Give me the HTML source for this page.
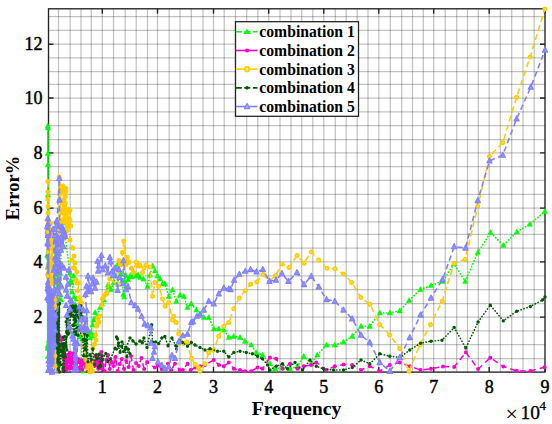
<!DOCTYPE html>
<html><head><meta charset="utf-8"><style>html,body{margin:0;padding:0;background:#fff;width:552px;height:424px;overflow:hidden}svg{display:block}</style></head>
<body><svg width="552" height="424" viewBox="0 0 552 424"><path d="M58.50 8.8V372.1M70.20 8.8V372.1M81.00 8.8V372.1M91.30 8.8V372.1M102.30 8.8V372.1M113.50 8.8V372.1M125.20 8.8V372.1M136.20 8.8V372.1M147.50 8.8V372.1M157.50 8.8V372.1M169.20 8.8V372.1M180.00 8.8V372.1M191.30 8.8V372.1M203.00 8.8V372.1M213.50 8.8V372.1M224.20 8.8V372.1M235.50 8.8V372.1M246.70 8.8V372.1M257.80 8.8V372.1M268.70 8.8V372.1M280.00 8.8V372.1M291.00 8.8V372.1M301.70 8.8V372.1M312.80 8.8V372.1M323.80 8.8V372.1M335.30 8.8V372.1M346.20 8.8V372.1M357.20 8.8V372.1M368.00 8.8V372.1M378.80 8.8V372.1M390.30 8.8V372.1M401.70 8.8V372.1M412.50 8.8V372.1M423.30 8.8V372.1M433.70 8.8V372.1M445.30 8.8V372.1M456.70 8.8V372.1M467.50 8.8V372.1M478.30 8.8V372.1M489.20 8.8V372.1M500.30 8.8V372.1M511.70 8.8V372.1M523.00 8.8V372.1M534.20 8.8V372.1" stroke="#000" stroke-opacity="0.24" stroke-width="1.25" fill="none"/><path d="M48.5 358.50H545.0M48.5 344.70H545.0M48.5 330.80H545.0M48.5 317.10H545.0M48.5 303.50H545.0M48.5 289.50H545.0M48.5 275.80H545.0M48.5 261.90H545.0M48.5 248.10H545.0M48.5 234.40H545.0M48.5 221.90H545.0M48.5 208.10H545.0M48.5 194.30H545.0M48.5 180.40H545.0M48.5 166.70H545.0M48.5 152.90H545.0M48.5 139.50H545.0M48.5 125.50H545.0M48.5 111.90H545.0M48.5 98.00H545.0M48.5 84.30H545.0M48.5 71.50H545.0M48.5 57.90H545.0M48.5 44.20H545.0M48.5 30.40H545.0M48.5 16.60H545.0" stroke="#000" stroke-opacity="0.24" stroke-width="1.25" fill="none"/><rect x="48.5" y="8.8" width="496.5" height="363.3" fill="none" stroke="#222" stroke-width="1.35"/><path d="M102.30 372.1v-5M102.30 8.8v5M157.50 372.1v-5M157.50 8.8v5M213.50 372.1v-5M213.50 8.8v5M268.70 372.1v-5M268.70 8.8v5M323.80 372.1v-5M323.80 8.8v5M378.80 372.1v-5M378.80 8.8v5M433.70 372.1v-5M433.70 8.8v5M489.20 372.1v-5M489.20 8.8v5M545.00 372.1v-5M545.00 8.8v5M48.5 317.10h5M545.0 317.10h-5M48.5 261.90h5M545.0 261.90h-5M48.5 208.10h5M545.0 208.10h-5M48.5 152.90h5M545.0 152.90h-5M48.5 98.00h5M545.0 98.00h-5M48.5 44.20h5M545.0 44.20h-5" stroke="#222" stroke-width="1.35" fill="none"/><g><path d="M47.9 126V372" stroke="#00ff00" stroke-width="1.5"/><path d="M47.8 126.0L47.9 127.8L47.9 153.5L47.9 164.8L48.0 195.0L48.0 224.4L47.3 254.6L47.7 348.2L47.6 256.0L47.6 345.8L48.0 266.5L47.9 356.5L48.0 267.4L48.5 369.9L48.8 275.3L48.8 340.5L48.7 226.8L49.0 369.0L49.0 238.4L49.1 348.3L56.8 253.9L56.9 353.8L57.0 248.8L57.1 364.1L57.4 258.3L57.4 351.9L57.3 236.5L57.3 370.0L57.7 241.4L57.8 361.0L58.0 254.1L57.6 366.0L58.1 243.3L58.3 360.7L57.9 247.9L58.3 364.3L59.5 262.0L60.0 273.0L59.0 285.0L60.5 295.0L61.0 300.0L58.5 298.0L63.0 222.9L64.8 233.6L70.0 273.0L70.6 281.0L71.4 283.0L73.6 276.0L72.0 292.0L74.0 297.0L76.5 299.0L75.0 305.0L76.0 323.5L78.4 326.0L76.0 334.0L80.0 337.0L82.2 339.0L81.0 366.0L83.0 371.0L85.0 360.0L87.5 334.0L90.0 338.0L89.0 332.0L93.0 336.0M91.2 332.5L92.5 325.0L93.5 320.0L95.0 312.5L97.0 317.0L100.0 307.5L102.0 304.0L104.0 300.0L106.0 293.0L107.9 285.2L109.2 286.5L111.1 289.7L113.7 282.6L115.5 276.0L117.6 264.5L118.9 269.6L120.9 274.2L122.2 281.0L123.4 294.3L124.1 296.9L124.7 281.3L125.5 274.8L128.0 279.4L130.0 276.0L131.9 276.8L133.2 271.0L136.2 276.0L138.0 275.0L140.0 277.5L143.5 279.0L147.5 286.2L150.0 275.0L152.5 266.0L155.0 271.0L157.5 276.0L160.0 279.0L162.5 283.8L165.0 283.8L168.8 296.2L172.5 290.0L176.2 301.2L180.0 295.0L183.8 296.2L187.5 307.5L191.2 303.8L196.2 310.0L200.0 314.0L203.8 317.5L208.8 317.5L213.8 328.8L218.8 328.8L223.8 330.0L228.8 337.5L233.8 336.2L240.0 337.5L245.0 341.2L251.2 345.0L256.2 352.5L262.5 355.0L270.0 363.8L275.0 368.8L282.5 367.5L290.0 368.8L297.5 366.2L303.8 356.2L311.2 363.8L317.2 355.0L326.5 345.0L334.8 345.0L343.5 342.0L352.2 336.2L361.0 326.2L369.8 326.2L379.8 313.0L389.8 313.0L399.8 310.8L409.0 300.5L420.3 289.5L431.0 285.5L442.8 281.2L454.0 263.8L465.2 281.2L477.8 252.5L490.5 232.5L503.3 245.5L516.8 232.0L529.8 224.2L544.8 211.5" stroke="#00ff00" stroke-width="1.6" fill="none" stroke-linecap="round" stroke-linejoin="round" stroke-dasharray="0.3 2.8"/><path d="M45.2 128.1L47.8 123.0L50.4 128.1ZM45.3 129.9L47.9 124.8L50.5 129.9ZM45.3 155.6L47.9 150.5L50.5 155.6ZM45.3 166.9L47.9 161.8L50.5 166.9ZM45.4 197.1L48.0 192.0L50.6 197.1ZM45.4 226.5L48.0 221.4L50.6 226.5ZM44.7 256.7L47.3 251.6L49.9 256.7ZM45.1 350.3L47.7 345.2L50.3 350.3ZM45.0 258.1L47.6 253.0L50.2 258.1ZM45.0 347.9L47.6 342.8L50.2 347.9ZM45.4 268.6L48.0 263.5L50.6 268.6ZM45.3 358.6L47.9 353.5L50.5 358.6ZM45.4 269.5L48.0 264.4L50.6 269.5ZM45.9 372.0L48.5 366.9L51.1 372.0ZM46.2 277.4L48.8 272.3L51.4 277.4ZM46.2 342.6L48.8 337.5L51.4 342.6ZM46.1 228.9L48.7 223.8L51.3 228.9ZM46.4 371.1L49.0 366.0L51.6 371.1ZM46.4 240.5L49.0 235.4L51.6 240.5ZM46.5 350.4L49.1 345.3L51.7 350.4ZM54.2 256.0L56.8 250.9L59.4 256.0ZM54.3 355.9L56.9 350.8L59.5 355.9ZM54.4 250.9L57.0 245.8L59.6 250.9ZM54.5 366.2L57.1 361.1L59.7 366.2ZM54.8 260.4L57.4 255.3L60.0 260.4ZM54.8 354.0L57.4 348.9L60.0 354.0ZM54.7 238.6L57.3 233.5L59.9 238.6ZM54.7 372.1L57.3 367.0L59.9 372.1ZM55.1 243.5L57.7 238.4L60.3 243.5ZM55.2 363.1L57.8 358.0L60.4 363.1ZM55.4 256.2L58.0 251.1L60.6 256.2ZM55.0 368.1L57.6 363.0L60.2 368.1ZM55.5 245.4L58.1 240.3L60.7 245.4ZM55.7 362.8L58.3 357.7L60.9 362.8ZM55.3 250.0L57.9 244.9L60.5 250.0ZM55.7 366.4L58.3 361.3L60.9 366.4ZM56.9 264.1L59.5 259.0L62.1 264.1ZM57.4 275.1L60.0 270.0L62.6 275.1ZM56.4 287.1L59.0 282.0L61.6 287.1ZM57.9 297.1L60.5 292.0L63.1 297.1ZM58.4 302.1L61.0 297.0L63.6 302.1ZM55.9 300.1L58.5 295.0L61.1 300.1ZM60.4 225.0L63.0 219.9L65.6 225.0ZM62.2 235.7L64.8 230.6L67.4 235.7ZM67.4 275.1L70.0 270.0L72.6 275.1ZM68.0 283.1L70.6 278.0L73.2 283.1ZM68.8 285.1L71.4 280.0L74.0 285.1ZM71.0 278.1L73.6 273.0L76.2 278.1ZM69.4 294.1L72.0 289.0L74.6 294.1ZM71.4 299.1L74.0 294.0L76.6 299.1ZM73.9 301.1L76.5 296.0L79.1 301.1ZM72.4 307.1L75.0 302.0L77.6 307.1ZM73.4 325.6L76.0 320.5L78.6 325.6ZM75.8 328.1L78.4 323.0L81.0 328.1ZM73.4 336.1L76.0 331.0L78.6 336.1ZM77.4 339.1L80.0 334.0L82.6 339.1ZM79.6 341.1L82.2 336.0L84.8 341.1ZM78.4 368.1L81.0 363.0L83.6 368.1ZM80.4 373.1L83.0 368.0L85.6 373.1ZM82.4 362.1L85.0 357.0L87.6 362.1ZM84.9 336.1L87.5 331.0L90.1 336.1ZM87.4 340.1L90.0 335.0L92.6 340.1ZM86.4 334.1L89.0 329.0L91.6 334.1ZM90.4 338.1L93.0 333.0L95.6 338.1ZM88.7 334.6L91.2 329.5L93.8 334.6ZM89.9 327.1L92.5 322.0L95.1 327.1ZM90.9 322.1L93.5 317.0L96.1 322.1ZM92.4 314.6L95.0 309.5L97.6 314.6ZM94.4 319.1L97.0 314.0L99.6 319.1ZM97.4 309.6L100.0 304.5L102.6 309.6ZM99.4 306.1L102.0 301.0L104.6 306.1ZM101.4 302.1L104.0 297.0L106.6 302.1ZM103.4 295.1L106.0 290.0L108.6 295.1ZM105.3 287.3L107.9 282.2L110.5 287.3ZM106.6 288.6L109.2 283.5L111.8 288.6ZM108.5 291.8L111.1 286.7L113.7 291.8ZM111.1 284.7L113.7 279.6L116.3 284.7ZM112.9 278.1L115.5 273.0L118.1 278.1ZM115.0 266.6L117.6 261.5L120.2 266.6ZM116.3 271.7L118.9 266.6L121.5 271.7ZM118.3 276.3L120.9 271.2L123.5 276.3ZM119.6 283.1L122.2 278.0L124.8 283.1ZM120.8 296.4L123.4 291.3L126.0 296.4ZM121.5 299.0L124.1 293.9L126.7 299.0ZM122.1 283.4L124.7 278.3L127.3 283.4ZM122.9 276.9L125.5 271.8L128.1 276.9ZM125.4 281.5L128.0 276.4L130.6 281.5ZM127.4 278.1L130.0 273.0L132.6 278.1ZM129.3 278.9L131.9 273.8L134.5 278.9ZM130.6 273.1L133.2 268.0L135.8 273.1ZM133.7 278.1L136.2 273.0L138.8 278.1ZM135.4 277.1L138.0 272.0L140.6 277.1ZM137.4 279.6L140.0 274.5L142.6 279.6ZM140.9 281.1L143.5 276.0L146.1 281.1ZM144.9 288.4L147.5 283.2L150.1 288.4ZM147.4 277.1L150.0 272.0L152.6 277.1ZM149.9 268.1L152.5 263.0L155.1 268.1ZM152.4 273.1L155.0 268.0L157.6 273.1ZM154.9 278.1L157.5 273.0L160.1 278.1ZM157.4 281.1L160.0 276.0L162.6 281.1ZM159.9 285.9L162.5 280.8L165.1 285.9ZM162.4 285.9L165.0 280.8L167.6 285.9ZM166.2 298.4L168.8 293.2L171.3 298.4ZM169.9 292.1L172.5 287.0L175.1 292.1ZM173.7 303.4L176.2 298.2L178.8 303.4ZM177.4 297.1L180.0 292.0L182.6 297.1ZM181.2 298.4L183.8 293.2L186.3 298.4ZM184.9 309.6L187.5 304.5L190.1 309.6ZM188.7 305.9L191.2 300.8L193.8 305.9ZM193.7 312.1L196.2 307.0L198.8 312.1ZM197.4 316.1L200.0 311.0L202.6 316.1ZM201.2 319.6L203.8 314.5L206.3 319.6ZM206.2 319.6L208.8 314.5L211.3 319.6ZM211.2 330.9L213.8 325.8L216.3 330.9ZM216.2 330.9L218.8 325.8L221.3 330.9ZM221.2 332.1L223.8 327.0L226.3 332.1ZM226.2 339.6L228.8 334.5L231.3 339.6ZM231.2 338.4L233.8 333.2L236.3 338.4ZM237.4 339.6L240.0 334.5L242.6 339.6ZM242.4 343.4L245.0 338.2L247.6 343.4ZM248.7 347.1L251.2 342.0L253.8 347.1ZM253.7 354.6L256.2 349.5L258.9 354.6ZM259.9 357.1L262.5 352.0L265.1 357.1ZM267.4 365.9L270.0 360.8L272.6 365.9ZM272.4 370.9L275.0 365.8L277.6 370.9ZM279.9 369.6L282.5 364.5L285.1 369.6ZM287.4 370.9L290.0 365.8L292.6 370.9ZM294.9 368.4L297.5 363.2L300.1 368.4ZM301.1 358.4L303.8 353.2L306.4 358.4ZM308.6 365.9L311.2 360.8L313.9 365.9ZM314.6 357.1L317.2 352.0L319.9 357.1ZM323.9 347.1L326.5 342.0L329.1 347.1ZM332.1 347.1L334.8 342.0L337.4 347.1ZM340.9 344.1L343.5 339.0L346.1 344.1ZM349.6 338.4L352.2 333.2L354.9 338.4ZM358.4 328.4L361.0 323.2L363.6 328.4ZM367.1 328.4L369.8 323.2L372.4 328.4ZM377.1 315.1L379.8 310.0L382.4 315.1ZM387.1 315.1L389.8 310.0L392.4 315.1ZM397.1 312.9L399.8 307.8L402.4 312.9ZM406.4 302.6L409.0 297.5L411.6 302.6ZM417.7 291.6L420.3 286.5L422.9 291.6ZM428.4 287.6L431.0 282.5L433.6 287.6ZM440.1 283.4L442.8 278.2L445.4 283.4ZM451.4 265.9L454.0 260.8L456.6 265.9ZM462.6 283.4L465.2 278.2L467.9 283.4ZM475.1 254.6L477.8 249.5L480.4 254.6ZM487.9 234.6L490.5 229.5L493.1 234.6ZM500.7 247.6L503.3 242.5L505.9 247.6ZM514.2 234.1L516.8 229.0L519.4 234.1ZM527.2 226.3L529.8 221.2L532.4 226.3ZM542.2 213.6L544.8 208.5L547.4 213.6Z" fill="#00ff00" stroke="#00ff00" stroke-width="0.5" stroke-linejoin="round"/><path d="M55.6 350.5L56.7 358.6L57.0 350.1L57.7 361.7L58.7 349.8L59.5 336.0L61.0 340.0L62.5 338.0L60.0 346.0L63.0 349.0L63.3 356.5L63.7 364.7L64.2 358.4L64.7 367.8L65.3 354.7L66.2 364.0L66.4 360.8L66.9 368.1L67.8 358.4L67.9 362.1L68.5 354.6L69.4 368.7L69.7 352.7L70.1 366.2L70.7 358.0L71.3 367.5L72.1 356.8L72.5 363.3L72.8 353.5L73.7 363.8L73.9 353.9L74.7 362.6L63.2 370.2L64.9 364.3L65.4 355.8L66.0 370.4L67.2 366.0L68.3 368.0L69.6 359.0L70.2 366.2L71.1 357.9L72.6 368.5L75.1 362.9L76.2 370.4L76.8 362.8L78.0 370.8L78.2 359.1L79.2 369.1L79.9 362.6L81.0 365.6L81.7 360.5L82.2 369.8L83.0 362.7L84.1 363.5L85.8 367.3L87.7 370.5L89.2 368.1L90.8 370.9L91.7 362.5L92.7 365.9L93.6 362.7L94.4 366.1L95.6 362.3L96.3 365.2L97.5 359.7L98.3 368.7L99.2 360.0L99.9 366.5L101.3 362.4L102.1 368.7M95.4 356.0L96.8 362.0L98.3 358.0L99.8 368.0L101.3 352.0L102.9 365.0L104.6 371.0L106.3 360.0L108.0 355.0L109.8 369.0L111.7 362.0L113.6 366.0L115.6 357.0L117.6 371.0L119.7 364.0L121.8 359.0L124.0 369.0L126.3 361.0L128.6 367.0L131.0 356.0L133.5 370.0L136.1 363.0L138.7 366.0L141.4 358.0L144.2 369.0L147.1 362.0L154.8 367.6L157.9 365.3L161.8 369.2L168.0 363.7L171.2 370.0L175.0 363.7L179.7 370.0L182.8 370.0L187.5 363.7L190.6 370.0L195.3 367.6L200.0 366.2L205.0 365.0L213.8 360.0L218.8 365.0L223.8 366.2L228.8 362.5L233.8 368.8L240.0 370.0L245.0 371.2L251.2 371.2L257.5 367.5L262.5 368.8L270.0 357.5L276.2 358.8L282.5 368.8L290.0 363.8L297.5 368.8L303.8 366.2L311.2 365.0L316.2 362.5L326.5 370.0L334.8 366.2L343.5 364.5L352.2 365.0L361.0 370.0L369.8 366.2L379.8 371.2L389.8 365.0L399.8 362.5L409.8 366.2L420.5 370.0L431.0 368.8L443.0 366.5L454.2 366.9L465.8 352.3L478.1 369.0L490.3 357.8L503.3 366.5L516.7 371.0L530.3 371.0L544.5 367.3" stroke="#ff00cc" stroke-width="1.5" fill="none" stroke-linecap="butt" stroke-linejoin="round" stroke-dasharray="6 4"/><path d="M53.6 350.5a2.0 2.0 0 1 0 4.0 0a2.0 2.0 0 1 0 -4.0 0ZM54.7 358.6a2.0 2.0 0 1 0 4.0 0a2.0 2.0 0 1 0 -4.0 0ZM55.0 350.1a2.0 2.0 0 1 0 4.0 0a2.0 2.0 0 1 0 -4.0 0ZM55.7 361.7a2.0 2.0 0 1 0 4.0 0a2.0 2.0 0 1 0 -4.0 0ZM56.7 349.8a2.0 2.0 0 1 0 4.0 0a2.0 2.0 0 1 0 -4.0 0ZM57.5 336.0a2.0 2.0 0 1 0 4.0 0a2.0 2.0 0 1 0 -4.0 0ZM59.0 340.0a2.0 2.0 0 1 0 4.0 0a2.0 2.0 0 1 0 -4.0 0ZM60.5 338.0a2.0 2.0 0 1 0 4.0 0a2.0 2.0 0 1 0 -4.0 0ZM58.0 346.0a2.0 2.0 0 1 0 4.0 0a2.0 2.0 0 1 0 -4.0 0ZM61.0 349.0a2.0 2.0 0 1 0 4.0 0a2.0 2.0 0 1 0 -4.0 0ZM61.3 356.5a2.0 2.0 0 1 0 4.0 0a2.0 2.0 0 1 0 -4.0 0ZM61.7 364.7a2.0 2.0 0 1 0 4.0 0a2.0 2.0 0 1 0 -4.0 0ZM62.2 358.4a2.0 2.0 0 1 0 4.0 0a2.0 2.0 0 1 0 -4.0 0ZM62.7 367.8a2.0 2.0 0 1 0 4.0 0a2.0 2.0 0 1 0 -4.0 0ZM63.3 354.7a2.0 2.0 0 1 0 4.0 0a2.0 2.0 0 1 0 -4.0 0ZM64.2 364.0a2.0 2.0 0 1 0 4.0 0a2.0 2.0 0 1 0 -4.0 0ZM64.4 360.8a2.0 2.0 0 1 0 4.0 0a2.0 2.0 0 1 0 -4.0 0ZM64.9 368.1a2.0 2.0 0 1 0 4.0 0a2.0 2.0 0 1 0 -4.0 0ZM65.8 358.4a2.0 2.0 0 1 0 4.0 0a2.0 2.0 0 1 0 -4.0 0ZM65.9 362.1a2.0 2.0 0 1 0 4.0 0a2.0 2.0 0 1 0 -4.0 0ZM66.5 354.6a2.0 2.0 0 1 0 4.0 0a2.0 2.0 0 1 0 -4.0 0ZM67.4 368.7a2.0 2.0 0 1 0 4.0 0a2.0 2.0 0 1 0 -4.0 0ZM67.7 352.7a2.0 2.0 0 1 0 4.0 0a2.0 2.0 0 1 0 -4.0 0ZM68.1 366.2a2.0 2.0 0 1 0 4.0 0a2.0 2.0 0 1 0 -4.0 0ZM68.7 358.0a2.0 2.0 0 1 0 4.0 0a2.0 2.0 0 1 0 -4.0 0ZM69.3 367.5a2.0 2.0 0 1 0 4.0 0a2.0 2.0 0 1 0 -4.0 0ZM70.1 356.8a2.0 2.0 0 1 0 4.0 0a2.0 2.0 0 1 0 -4.0 0ZM70.5 363.3a2.0 2.0 0 1 0 4.0 0a2.0 2.0 0 1 0 -4.0 0ZM70.8 353.5a2.0 2.0 0 1 0 4.0 0a2.0 2.0 0 1 0 -4.0 0ZM71.7 363.8a2.0 2.0 0 1 0 4.0 0a2.0 2.0 0 1 0 -4.0 0ZM71.9 353.9a2.0 2.0 0 1 0 4.0 0a2.0 2.0 0 1 0 -4.0 0ZM72.7 362.6a2.0 2.0 0 1 0 4.0 0a2.0 2.0 0 1 0 -4.0 0ZM61.2 370.2a2.0 2.0 0 1 0 4.0 0a2.0 2.0 0 1 0 -4.0 0ZM62.9 364.3a2.0 2.0 0 1 0 4.0 0a2.0 2.0 0 1 0 -4.0 0ZM63.4 355.8a2.0 2.0 0 1 0 4.0 0a2.0 2.0 0 1 0 -4.0 0ZM64.0 370.4a2.0 2.0 0 1 0 4.0 0a2.0 2.0 0 1 0 -4.0 0ZM65.2 366.0a2.0 2.0 0 1 0 4.0 0a2.0 2.0 0 1 0 -4.0 0ZM66.3 368.0a2.0 2.0 0 1 0 4.0 0a2.0 2.0 0 1 0 -4.0 0ZM67.6 359.0a2.0 2.0 0 1 0 4.0 0a2.0 2.0 0 1 0 -4.0 0ZM68.2 366.2a2.0 2.0 0 1 0 4.0 0a2.0 2.0 0 1 0 -4.0 0ZM69.1 357.9a2.0 2.0 0 1 0 4.0 0a2.0 2.0 0 1 0 -4.0 0ZM70.6 368.5a2.0 2.0 0 1 0 4.0 0a2.0 2.0 0 1 0 -4.0 0ZM73.1 362.9a2.0 2.0 0 1 0 4.0 0a2.0 2.0 0 1 0 -4.0 0ZM74.2 370.4a2.0 2.0 0 1 0 4.0 0a2.0 2.0 0 1 0 -4.0 0ZM74.8 362.8a2.0 2.0 0 1 0 4.0 0a2.0 2.0 0 1 0 -4.0 0ZM76.0 370.8a2.0 2.0 0 1 0 4.0 0a2.0 2.0 0 1 0 -4.0 0ZM76.2 359.1a2.0 2.0 0 1 0 4.0 0a2.0 2.0 0 1 0 -4.0 0ZM77.2 369.1a2.0 2.0 0 1 0 4.0 0a2.0 2.0 0 1 0 -4.0 0ZM77.9 362.6a2.0 2.0 0 1 0 4.0 0a2.0 2.0 0 1 0 -4.0 0ZM79.0 365.6a2.0 2.0 0 1 0 4.0 0a2.0 2.0 0 1 0 -4.0 0ZM79.7 360.5a2.0 2.0 0 1 0 4.0 0a2.0 2.0 0 1 0 -4.0 0ZM80.2 369.8a2.0 2.0 0 1 0 4.0 0a2.0 2.0 0 1 0 -4.0 0ZM81.0 362.7a2.0 2.0 0 1 0 4.0 0a2.0 2.0 0 1 0 -4.0 0ZM82.1 363.5a2.0 2.0 0 1 0 4.0 0a2.0 2.0 0 1 0 -4.0 0ZM83.8 367.3a2.0 2.0 0 1 0 4.0 0a2.0 2.0 0 1 0 -4.0 0ZM85.7 370.5a2.0 2.0 0 1 0 4.0 0a2.0 2.0 0 1 0 -4.0 0ZM87.2 368.1a2.0 2.0 0 1 0 4.0 0a2.0 2.0 0 1 0 -4.0 0ZM88.8 370.9a2.0 2.0 0 1 0 4.0 0a2.0 2.0 0 1 0 -4.0 0ZM89.7 362.5a2.0 2.0 0 1 0 4.0 0a2.0 2.0 0 1 0 -4.0 0ZM90.7 365.9a2.0 2.0 0 1 0 4.0 0a2.0 2.0 0 1 0 -4.0 0ZM91.6 362.7a2.0 2.0 0 1 0 4.0 0a2.0 2.0 0 1 0 -4.0 0ZM92.4 366.1a2.0 2.0 0 1 0 4.0 0a2.0 2.0 0 1 0 -4.0 0ZM93.6 362.3a2.0 2.0 0 1 0 4.0 0a2.0 2.0 0 1 0 -4.0 0ZM94.3 365.2a2.0 2.0 0 1 0 4.0 0a2.0 2.0 0 1 0 -4.0 0ZM95.5 359.7a2.0 2.0 0 1 0 4.0 0a2.0 2.0 0 1 0 -4.0 0ZM96.3 368.7a2.0 2.0 0 1 0 4.0 0a2.0 2.0 0 1 0 -4.0 0ZM97.2 360.0a2.0 2.0 0 1 0 4.0 0a2.0 2.0 0 1 0 -4.0 0ZM97.9 366.5a2.0 2.0 0 1 0 4.0 0a2.0 2.0 0 1 0 -4.0 0ZM99.3 362.4a2.0 2.0 0 1 0 4.0 0a2.0 2.0 0 1 0 -4.0 0ZM100.1 368.7a2.0 2.0 0 1 0 4.0 0a2.0 2.0 0 1 0 -4.0 0ZM93.4 356.0a2.0 2.0 0 1 0 4.0 0a2.0 2.0 0 1 0 -4.0 0ZM94.8 362.0a2.0 2.0 0 1 0 4.0 0a2.0 2.0 0 1 0 -4.0 0ZM96.3 358.0a2.0 2.0 0 1 0 4.0 0a2.0 2.0 0 1 0 -4.0 0ZM97.8 368.0a2.0 2.0 0 1 0 4.0 0a2.0 2.0 0 1 0 -4.0 0ZM99.3 352.0a2.0 2.0 0 1 0 4.0 0a2.0 2.0 0 1 0 -4.0 0ZM100.9 365.0a2.0 2.0 0 1 0 4.0 0a2.0 2.0 0 1 0 -4.0 0ZM102.6 371.0a2.0 2.0 0 1 0 4.0 0a2.0 2.0 0 1 0 -4.0 0ZM104.3 360.0a2.0 2.0 0 1 0 4.0 0a2.0 2.0 0 1 0 -4.0 0ZM106.0 355.0a2.0 2.0 0 1 0 4.0 0a2.0 2.0 0 1 0 -4.0 0ZM107.8 369.0a2.0 2.0 0 1 0 4.0 0a2.0 2.0 0 1 0 -4.0 0ZM109.7 362.0a2.0 2.0 0 1 0 4.0 0a2.0 2.0 0 1 0 -4.0 0ZM111.6 366.0a2.0 2.0 0 1 0 4.0 0a2.0 2.0 0 1 0 -4.0 0ZM113.6 357.0a2.0 2.0 0 1 0 4.0 0a2.0 2.0 0 1 0 -4.0 0ZM115.6 371.0a2.0 2.0 0 1 0 4.0 0a2.0 2.0 0 1 0 -4.0 0ZM117.7 364.0a2.0 2.0 0 1 0 4.0 0a2.0 2.0 0 1 0 -4.0 0ZM119.8 359.0a2.0 2.0 0 1 0 4.0 0a2.0 2.0 0 1 0 -4.0 0ZM122.0 369.0a2.0 2.0 0 1 0 4.0 0a2.0 2.0 0 1 0 -4.0 0ZM124.3 361.0a2.0 2.0 0 1 0 4.0 0a2.0 2.0 0 1 0 -4.0 0ZM126.6 367.0a2.0 2.0 0 1 0 4.0 0a2.0 2.0 0 1 0 -4.0 0ZM129.0 356.0a2.0 2.0 0 1 0 4.0 0a2.0 2.0 0 1 0 -4.0 0ZM131.5 370.0a2.0 2.0 0 1 0 4.0 0a2.0 2.0 0 1 0 -4.0 0ZM134.1 363.0a2.0 2.0 0 1 0 4.0 0a2.0 2.0 0 1 0 -4.0 0ZM136.7 366.0a2.0 2.0 0 1 0 4.0 0a2.0 2.0 0 1 0 -4.0 0ZM139.4 358.0a2.0 2.0 0 1 0 4.0 0a2.0 2.0 0 1 0 -4.0 0ZM142.2 369.0a2.0 2.0 0 1 0 4.0 0a2.0 2.0 0 1 0 -4.0 0ZM145.1 362.0a2.0 2.0 0 1 0 4.0 0a2.0 2.0 0 1 0 -4.0 0ZM152.8 367.6a2.0 2.0 0 1 0 4.0 0a2.0 2.0 0 1 0 -4.0 0ZM155.9 365.3a2.0 2.0 0 1 0 4.0 0a2.0 2.0 0 1 0 -4.0 0ZM159.8 369.2a2.0 2.0 0 1 0 4.0 0a2.0 2.0 0 1 0 -4.0 0ZM166.0 363.7a2.0 2.0 0 1 0 4.0 0a2.0 2.0 0 1 0 -4.0 0ZM169.2 370.0a2.0 2.0 0 1 0 4.0 0a2.0 2.0 0 1 0 -4.0 0ZM173.0 363.7a2.0 2.0 0 1 0 4.0 0a2.0 2.0 0 1 0 -4.0 0ZM177.7 370.0a2.0 2.0 0 1 0 4.0 0a2.0 2.0 0 1 0 -4.0 0ZM180.8 370.0a2.0 2.0 0 1 0 4.0 0a2.0 2.0 0 1 0 -4.0 0ZM185.5 363.7a2.0 2.0 0 1 0 4.0 0a2.0 2.0 0 1 0 -4.0 0ZM188.6 370.0a2.0 2.0 0 1 0 4.0 0a2.0 2.0 0 1 0 -4.0 0ZM193.3 367.6a2.0 2.0 0 1 0 4.0 0a2.0 2.0 0 1 0 -4.0 0ZM198.0 366.2a2.0 2.0 0 1 0 4.0 0a2.0 2.0 0 1 0 -4.0 0ZM203.0 365.0a2.0 2.0 0 1 0 4.0 0a2.0 2.0 0 1 0 -4.0 0ZM211.8 360.0a2.0 2.0 0 1 0 4.0 0a2.0 2.0 0 1 0 -4.0 0ZM216.8 365.0a2.0 2.0 0 1 0 4.0 0a2.0 2.0 0 1 0 -4.0 0ZM221.8 366.2a2.0 2.0 0 1 0 4.0 0a2.0 2.0 0 1 0 -4.0 0ZM226.8 362.5a2.0 2.0 0 1 0 4.0 0a2.0 2.0 0 1 0 -4.0 0ZM231.8 368.8a2.0 2.0 0 1 0 4.0 0a2.0 2.0 0 1 0 -4.0 0ZM238.0 370.0a2.0 2.0 0 1 0 4.0 0a2.0 2.0 0 1 0 -4.0 0ZM243.0 371.2a2.0 2.0 0 1 0 4.0 0a2.0 2.0 0 1 0 -4.0 0ZM249.2 371.2a2.0 2.0 0 1 0 4.0 0a2.0 2.0 0 1 0 -4.0 0ZM255.5 367.5a2.0 2.0 0 1 0 4.0 0a2.0 2.0 0 1 0 -4.0 0ZM260.5 368.8a2.0 2.0 0 1 0 4.0 0a2.0 2.0 0 1 0 -4.0 0ZM268.0 357.5a2.0 2.0 0 1 0 4.0 0a2.0 2.0 0 1 0 -4.0 0ZM274.2 358.8a2.0 2.0 0 1 0 4.0 0a2.0 2.0 0 1 0 -4.0 0ZM280.5 368.8a2.0 2.0 0 1 0 4.0 0a2.0 2.0 0 1 0 -4.0 0ZM288.0 363.8a2.0 2.0 0 1 0 4.0 0a2.0 2.0 0 1 0 -4.0 0ZM295.5 368.8a2.0 2.0 0 1 0 4.0 0a2.0 2.0 0 1 0 -4.0 0ZM301.8 366.2a2.0 2.0 0 1 0 4.0 0a2.0 2.0 0 1 0 -4.0 0ZM309.2 365.0a2.0 2.0 0 1 0 4.0 0a2.0 2.0 0 1 0 -4.0 0ZM314.2 362.5a2.0 2.0 0 1 0 4.0 0a2.0 2.0 0 1 0 -4.0 0ZM324.5 370.0a2.0 2.0 0 1 0 4.0 0a2.0 2.0 0 1 0 -4.0 0ZM332.8 366.2a2.0 2.0 0 1 0 4.0 0a2.0 2.0 0 1 0 -4.0 0ZM341.5 364.5a2.0 2.0 0 1 0 4.0 0a2.0 2.0 0 1 0 -4.0 0ZM350.2 365.0a2.0 2.0 0 1 0 4.0 0a2.0 2.0 0 1 0 -4.0 0ZM359.0 370.0a2.0 2.0 0 1 0 4.0 0a2.0 2.0 0 1 0 -4.0 0ZM367.8 366.2a2.0 2.0 0 1 0 4.0 0a2.0 2.0 0 1 0 -4.0 0ZM377.8 371.2a2.0 2.0 0 1 0 4.0 0a2.0 2.0 0 1 0 -4.0 0ZM387.8 365.0a2.0 2.0 0 1 0 4.0 0a2.0 2.0 0 1 0 -4.0 0ZM397.8 362.5a2.0 2.0 0 1 0 4.0 0a2.0 2.0 0 1 0 -4.0 0ZM407.8 366.2a2.0 2.0 0 1 0 4.0 0a2.0 2.0 0 1 0 -4.0 0ZM418.5 370.0a2.0 2.0 0 1 0 4.0 0a2.0 2.0 0 1 0 -4.0 0ZM429.0 368.8a2.0 2.0 0 1 0 4.0 0a2.0 2.0 0 1 0 -4.0 0ZM441.0 366.5a2.0 2.0 0 1 0 4.0 0a2.0 2.0 0 1 0 -4.0 0ZM452.2 366.9a2.0 2.0 0 1 0 4.0 0a2.0 2.0 0 1 0 -4.0 0ZM463.8 352.3a2.0 2.0 0 1 0 4.0 0a2.0 2.0 0 1 0 -4.0 0ZM476.1 369.0a2.0 2.0 0 1 0 4.0 0a2.0 2.0 0 1 0 -4.0 0ZM488.3 357.8a2.0 2.0 0 1 0 4.0 0a2.0 2.0 0 1 0 -4.0 0ZM501.3 366.5a2.0 2.0 0 1 0 4.0 0a2.0 2.0 0 1 0 -4.0 0ZM514.7 371.0a2.0 2.0 0 1 0 4.0 0a2.0 2.0 0 1 0 -4.0 0ZM528.3 371.0a2.0 2.0 0 1 0 4.0 0a2.0 2.0 0 1 0 -4.0 0ZM542.5 367.3a2.0 2.0 0 1 0 4.0 0a2.0 2.0 0 1 0 -4.0 0Z" fill="#ff00cc"/><path d="M47.8 181.5L47.9 192.0L47.9 199.0L48.0 206.5L48.0 213.0L47.6 230.3L47.7 268.0L47.7 234.7L47.8 274.2L48.2 221.0L48.5 276.9L48.6 239.2L48.7 289.7L48.9 232.8L49.0 285.5L49.5 232.3L49.5 266.6L50.4 223.7L50.5 240.9L50.7 280.3L51.2 246.5L51.5 281.4L51.6 233.1L51.6 278.9L52.2 245.0L52.4 268.7L52.4 229.8L52.7 283.8L52.8 235.3L53.3 278.9L54.1 300.1L55.6 307.8L56.3 296.2L57.9 309.8L54.5 355.2L55.1 366.2L55.7 352.0L56.7 371.8L60.7 189.4L61.0 221.3L61.9 192.4L62.6 212.6L63.3 199.8L63.9 219.1L64.5 188.6L64.9 215.2L65.9 188.6L66.4 217.0L64.1 206.7L64.8 222.3L65.4 210.1L66.4 230.9L67.1 209.2L67.4 226.2L68.4 211.6L69.0 224.7L70.0 210.2L70.7 226.1L58.5 250.0L59.3 230.0L59.3 200.0L59.3 177.0L60.5 190.0L62.8 186.0L66.0 191.2L65.4 196.4L65.4 203.0L64.7 207.5L68.6 212.7L68.0 217.9L70.0 219.8L68.6 227.0L70.0 240.0L73.0 248.0L74.0 256.0L72.0 260.0L75.0 263.0L73.0 268.0L74.5 268.0L77.0 272.0L76.0 280.0L77.0 283.0L79.0 283.0L77.5 291.0L80.0 299.0L80.5 302.0L79.0 298.0L81.5 303.0L83.0 329.0L84.0 334.0L83.5 340.0L84.5 347.0L86.0 360.0L87.0 368.0L88.5 364.0L90.0 372.0L91.5 366.0L92.5 371.0L93.0 348.0L94.5 344.0L95.5 335.0L96.0 340.0L96.5 326.0L98.0 318.0L97.0 325.0L99.0 322.0L100.0 316.0M101.2 305.0L102.5 298.8L104.0 296.0L105.9 294.3L107.2 291.7L109.8 279.0L117.6 285.0L118.9 260.6L120.5 265.0L122.5 252.5L123.8 241.2L126.0 264.5L127.3 257.3L129.0 262.0L131.2 268.3L133.2 272.2L136.2 262.0L138.0 266.0L140.0 265.0L142.5 272.5L144.0 268.0L146.2 265.0L150.0 267.0L152.5 296.2L155.0 282.5L158.8 286.2L162.5 298.8L165.0 306.2L168.8 302.5L172.5 320.0L173.8 316.2L176.2 322.5L178.8 333.8L183.6 343.5L186.7 341.9L191.4 358.3L195.3 364.5L198.4 367.6L200.0 371.2L205.0 363.8L208.8 352.5L213.8 350.0L218.8 336.2L223.8 326.2L228.8 322.5L233.8 308.8L239.4 298.1L245.1 290.7L250.6 284.2L256.9 281.8L263.0 274.8L269.5 281.0L275.4 275.7L281.9 263.9L289.0 267.5L297.0 255.5L304.0 263.2L311.2 252.0L318.8 260.0L327.0 268.2L335.0 268.8L343.5 274.0L351.8 282.5L360.8 297.5L370.0 304.2L379.8 324.5L389.8 335.0L399.8 348.8L409.0 371.2L419.8 345.0L430.5 324.5L442.2 301.2L454.2 263.2L465.1 259.4L477.8 206.2L489.5 156.5L502.8 142.6L516.6 97.3L530.1 57.0L544.8 9.0" stroke="#ffcc00" stroke-width="1.6" fill="none" stroke-linecap="butt" stroke-linejoin="round" stroke-dasharray="6 3.5"/><path d="M46.0 181.5a1.8 1.8 0 1 0 3.6 0a1.8 1.8 0 1 0 -3.6 0ZM46.1 192.0a1.8 1.8 0 1 0 3.6 0a1.8 1.8 0 1 0 -3.6 0ZM46.1 199.0a1.8 1.8 0 1 0 3.6 0a1.8 1.8 0 1 0 -3.6 0ZM46.2 206.5a1.8 1.8 0 1 0 3.6 0a1.8 1.8 0 1 0 -3.6 0ZM46.2 213.0a1.8 1.8 0 1 0 3.6 0a1.8 1.8 0 1 0 -3.6 0ZM45.8 230.3a1.8 1.8 0 1 0 3.6 0a1.8 1.8 0 1 0 -3.6 0ZM45.9 268.0a1.8 1.8 0 1 0 3.6 0a1.8 1.8 0 1 0 -3.6 0ZM45.9 234.7a1.8 1.8 0 1 0 3.6 0a1.8 1.8 0 1 0 -3.6 0ZM46.0 274.2a1.8 1.8 0 1 0 3.6 0a1.8 1.8 0 1 0 -3.6 0ZM46.4 221.0a1.8 1.8 0 1 0 3.6 0a1.8 1.8 0 1 0 -3.6 0ZM46.7 276.9a1.8 1.8 0 1 0 3.6 0a1.8 1.8 0 1 0 -3.6 0ZM46.8 239.2a1.8 1.8 0 1 0 3.6 0a1.8 1.8 0 1 0 -3.6 0ZM46.9 289.7a1.8 1.8 0 1 0 3.6 0a1.8 1.8 0 1 0 -3.6 0ZM47.1 232.8a1.8 1.8 0 1 0 3.6 0a1.8 1.8 0 1 0 -3.6 0ZM47.2 285.5a1.8 1.8 0 1 0 3.6 0a1.8 1.8 0 1 0 -3.6 0ZM47.7 232.3a1.8 1.8 0 1 0 3.6 0a1.8 1.8 0 1 0 -3.6 0ZM47.7 266.6a1.8 1.8 0 1 0 3.6 0a1.8 1.8 0 1 0 -3.6 0ZM48.6 223.7a1.8 1.8 0 1 0 3.6 0a1.8 1.8 0 1 0 -3.6 0ZM48.7 240.9a1.8 1.8 0 1 0 3.6 0a1.8 1.8 0 1 0 -3.6 0ZM48.9 280.3a1.8 1.8 0 1 0 3.6 0a1.8 1.8 0 1 0 -3.6 0ZM49.4 246.5a1.8 1.8 0 1 0 3.6 0a1.8 1.8 0 1 0 -3.6 0ZM49.7 281.4a1.8 1.8 0 1 0 3.6 0a1.8 1.8 0 1 0 -3.6 0ZM49.8 233.1a1.8 1.8 0 1 0 3.6 0a1.8 1.8 0 1 0 -3.6 0ZM49.8 278.9a1.8 1.8 0 1 0 3.6 0a1.8 1.8 0 1 0 -3.6 0ZM50.4 245.0a1.8 1.8 0 1 0 3.6 0a1.8 1.8 0 1 0 -3.6 0ZM50.6 268.7a1.8 1.8 0 1 0 3.6 0a1.8 1.8 0 1 0 -3.6 0ZM50.6 229.8a1.8 1.8 0 1 0 3.6 0a1.8 1.8 0 1 0 -3.6 0ZM50.9 283.8a1.8 1.8 0 1 0 3.6 0a1.8 1.8 0 1 0 -3.6 0ZM51.0 235.3a1.8 1.8 0 1 0 3.6 0a1.8 1.8 0 1 0 -3.6 0ZM51.5 278.9a1.8 1.8 0 1 0 3.6 0a1.8 1.8 0 1 0 -3.6 0ZM52.3 300.1a1.8 1.8 0 1 0 3.6 0a1.8 1.8 0 1 0 -3.6 0ZM53.8 307.8a1.8 1.8 0 1 0 3.6 0a1.8 1.8 0 1 0 -3.6 0ZM54.5 296.2a1.8 1.8 0 1 0 3.6 0a1.8 1.8 0 1 0 -3.6 0ZM56.1 309.8a1.8 1.8 0 1 0 3.6 0a1.8 1.8 0 1 0 -3.6 0ZM52.7 355.2a1.8 1.8 0 1 0 3.6 0a1.8 1.8 0 1 0 -3.6 0ZM53.3 366.2a1.8 1.8 0 1 0 3.6 0a1.8 1.8 0 1 0 -3.6 0ZM53.9 352.0a1.8 1.8 0 1 0 3.6 0a1.8 1.8 0 1 0 -3.6 0ZM54.9 371.8a1.8 1.8 0 1 0 3.6 0a1.8 1.8 0 1 0 -3.6 0ZM58.9 189.4a1.8 1.8 0 1 0 3.6 0a1.8 1.8 0 1 0 -3.6 0ZM59.2 221.3a1.8 1.8 0 1 0 3.6 0a1.8 1.8 0 1 0 -3.6 0ZM60.1 192.4a1.8 1.8 0 1 0 3.6 0a1.8 1.8 0 1 0 -3.6 0ZM60.8 212.6a1.8 1.8 0 1 0 3.6 0a1.8 1.8 0 1 0 -3.6 0ZM61.5 199.8a1.8 1.8 0 1 0 3.6 0a1.8 1.8 0 1 0 -3.6 0ZM62.1 219.1a1.8 1.8 0 1 0 3.6 0a1.8 1.8 0 1 0 -3.6 0ZM62.7 188.6a1.8 1.8 0 1 0 3.6 0a1.8 1.8 0 1 0 -3.6 0ZM63.1 215.2a1.8 1.8 0 1 0 3.6 0a1.8 1.8 0 1 0 -3.6 0ZM64.1 188.6a1.8 1.8 0 1 0 3.6 0a1.8 1.8 0 1 0 -3.6 0ZM64.6 217.0a1.8 1.8 0 1 0 3.6 0a1.8 1.8 0 1 0 -3.6 0ZM62.3 206.7a1.8 1.8 0 1 0 3.6 0a1.8 1.8 0 1 0 -3.6 0ZM63.0 222.3a1.8 1.8 0 1 0 3.6 0a1.8 1.8 0 1 0 -3.6 0ZM63.6 210.1a1.8 1.8 0 1 0 3.6 0a1.8 1.8 0 1 0 -3.6 0ZM64.6 230.9a1.8 1.8 0 1 0 3.6 0a1.8 1.8 0 1 0 -3.6 0ZM65.3 209.2a1.8 1.8 0 1 0 3.6 0a1.8 1.8 0 1 0 -3.6 0ZM65.6 226.2a1.8 1.8 0 1 0 3.6 0a1.8 1.8 0 1 0 -3.6 0ZM66.6 211.6a1.8 1.8 0 1 0 3.6 0a1.8 1.8 0 1 0 -3.6 0ZM67.2 224.7a1.8 1.8 0 1 0 3.6 0a1.8 1.8 0 1 0 -3.6 0ZM68.2 210.2a1.8 1.8 0 1 0 3.6 0a1.8 1.8 0 1 0 -3.6 0ZM68.9 226.1a1.8 1.8 0 1 0 3.6 0a1.8 1.8 0 1 0 -3.6 0ZM56.7 250.0a1.8 1.8 0 1 0 3.6 0a1.8 1.8 0 1 0 -3.6 0ZM57.5 230.0a1.8 1.8 0 1 0 3.6 0a1.8 1.8 0 1 0 -3.6 0ZM57.5 200.0a1.8 1.8 0 1 0 3.6 0a1.8 1.8 0 1 0 -3.6 0ZM57.5 177.0a1.8 1.8 0 1 0 3.6 0a1.8 1.8 0 1 0 -3.6 0ZM58.7 190.0a1.8 1.8 0 1 0 3.6 0a1.8 1.8 0 1 0 -3.6 0ZM61.0 186.0a1.8 1.8 0 1 0 3.6 0a1.8 1.8 0 1 0 -3.6 0ZM64.2 191.2a1.8 1.8 0 1 0 3.6 0a1.8 1.8 0 1 0 -3.6 0ZM63.6 196.4a1.8 1.8 0 1 0 3.6 0a1.8 1.8 0 1 0 -3.6 0ZM63.6 203.0a1.8 1.8 0 1 0 3.6 0a1.8 1.8 0 1 0 -3.6 0ZM62.9 207.5a1.8 1.8 0 1 0 3.6 0a1.8 1.8 0 1 0 -3.6 0ZM66.8 212.7a1.8 1.8 0 1 0 3.6 0a1.8 1.8 0 1 0 -3.6 0ZM66.2 217.9a1.8 1.8 0 1 0 3.6 0a1.8 1.8 0 1 0 -3.6 0ZM68.2 219.8a1.8 1.8 0 1 0 3.6 0a1.8 1.8 0 1 0 -3.6 0ZM66.8 227.0a1.8 1.8 0 1 0 3.6 0a1.8 1.8 0 1 0 -3.6 0ZM68.2 240.0a1.8 1.8 0 1 0 3.6 0a1.8 1.8 0 1 0 -3.6 0ZM71.2 248.0a1.8 1.8 0 1 0 3.6 0a1.8 1.8 0 1 0 -3.6 0ZM72.2 256.0a1.8 1.8 0 1 0 3.6 0a1.8 1.8 0 1 0 -3.6 0ZM70.2 260.0a1.8 1.8 0 1 0 3.6 0a1.8 1.8 0 1 0 -3.6 0ZM73.2 263.0a1.8 1.8 0 1 0 3.6 0a1.8 1.8 0 1 0 -3.6 0ZM71.2 268.0a1.8 1.8 0 1 0 3.6 0a1.8 1.8 0 1 0 -3.6 0ZM72.7 268.0a1.8 1.8 0 1 0 3.6 0a1.8 1.8 0 1 0 -3.6 0ZM75.2 272.0a1.8 1.8 0 1 0 3.6 0a1.8 1.8 0 1 0 -3.6 0ZM74.2 280.0a1.8 1.8 0 1 0 3.6 0a1.8 1.8 0 1 0 -3.6 0ZM75.2 283.0a1.8 1.8 0 1 0 3.6 0a1.8 1.8 0 1 0 -3.6 0ZM77.2 283.0a1.8 1.8 0 1 0 3.6 0a1.8 1.8 0 1 0 -3.6 0ZM75.7 291.0a1.8 1.8 0 1 0 3.6 0a1.8 1.8 0 1 0 -3.6 0ZM78.2 299.0a1.8 1.8 0 1 0 3.6 0a1.8 1.8 0 1 0 -3.6 0ZM78.7 302.0a1.8 1.8 0 1 0 3.6 0a1.8 1.8 0 1 0 -3.6 0ZM77.2 298.0a1.8 1.8 0 1 0 3.6 0a1.8 1.8 0 1 0 -3.6 0ZM79.7 303.0a1.8 1.8 0 1 0 3.6 0a1.8 1.8 0 1 0 -3.6 0ZM81.2 329.0a1.8 1.8 0 1 0 3.6 0a1.8 1.8 0 1 0 -3.6 0ZM82.2 334.0a1.8 1.8 0 1 0 3.6 0a1.8 1.8 0 1 0 -3.6 0ZM81.7 340.0a1.8 1.8 0 1 0 3.6 0a1.8 1.8 0 1 0 -3.6 0ZM82.7 347.0a1.8 1.8 0 1 0 3.6 0a1.8 1.8 0 1 0 -3.6 0ZM84.2 360.0a1.8 1.8 0 1 0 3.6 0a1.8 1.8 0 1 0 -3.6 0ZM85.2 368.0a1.8 1.8 0 1 0 3.6 0a1.8 1.8 0 1 0 -3.6 0ZM86.7 364.0a1.8 1.8 0 1 0 3.6 0a1.8 1.8 0 1 0 -3.6 0ZM88.2 372.0a1.8 1.8 0 1 0 3.6 0a1.8 1.8 0 1 0 -3.6 0ZM89.7 366.0a1.8 1.8 0 1 0 3.6 0a1.8 1.8 0 1 0 -3.6 0ZM90.7 371.0a1.8 1.8 0 1 0 3.6 0a1.8 1.8 0 1 0 -3.6 0ZM91.2 348.0a1.8 1.8 0 1 0 3.6 0a1.8 1.8 0 1 0 -3.6 0ZM92.7 344.0a1.8 1.8 0 1 0 3.6 0a1.8 1.8 0 1 0 -3.6 0ZM93.7 335.0a1.8 1.8 0 1 0 3.6 0a1.8 1.8 0 1 0 -3.6 0ZM94.2 340.0a1.8 1.8 0 1 0 3.6 0a1.8 1.8 0 1 0 -3.6 0ZM94.7 326.0a1.8 1.8 0 1 0 3.6 0a1.8 1.8 0 1 0 -3.6 0ZM96.2 318.0a1.8 1.8 0 1 0 3.6 0a1.8 1.8 0 1 0 -3.6 0ZM95.2 325.0a1.8 1.8 0 1 0 3.6 0a1.8 1.8 0 1 0 -3.6 0ZM97.2 322.0a1.8 1.8 0 1 0 3.6 0a1.8 1.8 0 1 0 -3.6 0ZM98.2 316.0a1.8 1.8 0 1 0 3.6 0a1.8 1.8 0 1 0 -3.6 0ZM99.5 305.0a1.8 1.8 0 1 0 3.6 0a1.8 1.8 0 1 0 -3.6 0ZM100.7 298.8a1.8 1.8 0 1 0 3.6 0a1.8 1.8 0 1 0 -3.6 0ZM102.2 296.0a1.8 1.8 0 1 0 3.6 0a1.8 1.8 0 1 0 -3.6 0ZM104.1 294.3a1.8 1.8 0 1 0 3.6 0a1.8 1.8 0 1 0 -3.6 0ZM105.4 291.7a1.8 1.8 0 1 0 3.6 0a1.8 1.8 0 1 0 -3.6 0ZM108.0 279.0a1.8 1.8 0 1 0 3.6 0a1.8 1.8 0 1 0 -3.6 0ZM115.8 285.0a1.8 1.8 0 1 0 3.6 0a1.8 1.8 0 1 0 -3.6 0ZM117.1 260.6a1.8 1.8 0 1 0 3.6 0a1.8 1.8 0 1 0 -3.6 0ZM118.7 265.0a1.8 1.8 0 1 0 3.6 0a1.8 1.8 0 1 0 -3.6 0ZM120.7 252.5a1.8 1.8 0 1 0 3.6 0a1.8 1.8 0 1 0 -3.6 0ZM122.0 241.2a1.8 1.8 0 1 0 3.6 0a1.8 1.8 0 1 0 -3.6 0ZM124.2 264.5a1.8 1.8 0 1 0 3.6 0a1.8 1.8 0 1 0 -3.6 0ZM125.5 257.3a1.8 1.8 0 1 0 3.6 0a1.8 1.8 0 1 0 -3.6 0ZM127.2 262.0a1.8 1.8 0 1 0 3.6 0a1.8 1.8 0 1 0 -3.6 0ZM129.4 268.3a1.8 1.8 0 1 0 3.6 0a1.8 1.8 0 1 0 -3.6 0ZM131.4 272.2a1.8 1.8 0 1 0 3.6 0a1.8 1.8 0 1 0 -3.6 0Z" fill="#ffcc00" stroke="#ffcc00" stroke-width="1.4"/><path d="M134.4 262.0a1.8 1.8 0 1 0 3.6 0a1.8 1.8 0 1 0 -3.6 0ZM136.2 266.0a1.8 1.8 0 1 0 3.6 0a1.8 1.8 0 1 0 -3.6 0ZM138.2 265.0a1.8 1.8 0 1 0 3.6 0a1.8 1.8 0 1 0 -3.6 0ZM140.7 272.5a1.8 1.8 0 1 0 3.6 0a1.8 1.8 0 1 0 -3.6 0ZM142.2 268.0a1.8 1.8 0 1 0 3.6 0a1.8 1.8 0 1 0 -3.6 0ZM144.4 265.0a1.8 1.8 0 1 0 3.6 0a1.8 1.8 0 1 0 -3.6 0ZM148.2 267.0a1.8 1.8 0 1 0 3.6 0a1.8 1.8 0 1 0 -3.6 0ZM150.7 296.2a1.8 1.8 0 1 0 3.6 0a1.8 1.8 0 1 0 -3.6 0ZM153.2 282.5a1.8 1.8 0 1 0 3.6 0a1.8 1.8 0 1 0 -3.6 0ZM156.9 286.2a1.8 1.8 0 1 0 3.6 0a1.8 1.8 0 1 0 -3.6 0ZM160.7 298.8a1.8 1.8 0 1 0 3.6 0a1.8 1.8 0 1 0 -3.6 0ZM163.2 306.2a1.8 1.8 0 1 0 3.6 0a1.8 1.8 0 1 0 -3.6 0ZM166.9 302.5a1.8 1.8 0 1 0 3.6 0a1.8 1.8 0 1 0 -3.6 0ZM170.7 320.0a1.8 1.8 0 1 0 3.6 0a1.8 1.8 0 1 0 -3.6 0ZM171.9 316.2a1.8 1.8 0 1 0 3.6 0a1.8 1.8 0 1 0 -3.6 0ZM174.4 322.5a1.8 1.8 0 1 0 3.6 0a1.8 1.8 0 1 0 -3.6 0ZM176.9 333.8a1.8 1.8 0 1 0 3.6 0a1.8 1.8 0 1 0 -3.6 0ZM181.8 343.5a1.8 1.8 0 1 0 3.6 0a1.8 1.8 0 1 0 -3.6 0ZM184.9 341.9a1.8 1.8 0 1 0 3.6 0a1.8 1.8 0 1 0 -3.6 0ZM189.6 358.3a1.8 1.8 0 1 0 3.6 0a1.8 1.8 0 1 0 -3.6 0ZM193.5 364.5a1.8 1.8 0 1 0 3.6 0a1.8 1.8 0 1 0 -3.6 0ZM196.6 367.6a1.8 1.8 0 1 0 3.6 0a1.8 1.8 0 1 0 -3.6 0ZM198.2 371.2a1.8 1.8 0 1 0 3.6 0a1.8 1.8 0 1 0 -3.6 0ZM203.2 363.8a1.8 1.8 0 1 0 3.6 0a1.8 1.8 0 1 0 -3.6 0ZM206.9 352.5a1.8 1.8 0 1 0 3.6 0a1.8 1.8 0 1 0 -3.6 0ZM211.9 350.0a1.8 1.8 0 1 0 3.6 0a1.8 1.8 0 1 0 -3.6 0ZM216.9 336.2a1.8 1.8 0 1 0 3.6 0a1.8 1.8 0 1 0 -3.6 0ZM221.9 326.2a1.8 1.8 0 1 0 3.6 0a1.8 1.8 0 1 0 -3.6 0ZM226.9 322.5a1.8 1.8 0 1 0 3.6 0a1.8 1.8 0 1 0 -3.6 0ZM231.9 308.8a1.8 1.8 0 1 0 3.6 0a1.8 1.8 0 1 0 -3.6 0ZM237.6 298.1a1.8 1.8 0 1 0 3.6 0a1.8 1.8 0 1 0 -3.6 0ZM243.3 290.7a1.8 1.8 0 1 0 3.6 0a1.8 1.8 0 1 0 -3.6 0ZM248.8 284.2a1.8 1.8 0 1 0 3.6 0a1.8 1.8 0 1 0 -3.6 0ZM255.1 281.8a1.8 1.8 0 1 0 3.6 0a1.8 1.8 0 1 0 -3.6 0ZM261.2 274.8a1.8 1.8 0 1 0 3.6 0a1.8 1.8 0 1 0 -3.6 0ZM267.7 281.0a1.8 1.8 0 1 0 3.6 0a1.8 1.8 0 1 0 -3.6 0ZM273.6 275.7a1.8 1.8 0 1 0 3.6 0a1.8 1.8 0 1 0 -3.6 0ZM280.1 263.9a1.8 1.8 0 1 0 3.6 0a1.8 1.8 0 1 0 -3.6 0ZM287.2 267.5a1.8 1.8 0 1 0 3.6 0a1.8 1.8 0 1 0 -3.6 0ZM295.2 255.5a1.8 1.8 0 1 0 3.6 0a1.8 1.8 0 1 0 -3.6 0ZM302.2 263.2a1.8 1.8 0 1 0 3.6 0a1.8 1.8 0 1 0 -3.6 0ZM309.4 252.0a1.8 1.8 0 1 0 3.6 0a1.8 1.8 0 1 0 -3.6 0ZM316.9 260.0a1.8 1.8 0 1 0 3.6 0a1.8 1.8 0 1 0 -3.6 0ZM325.2 268.2a1.8 1.8 0 1 0 3.6 0a1.8 1.8 0 1 0 -3.6 0ZM333.2 268.8a1.8 1.8 0 1 0 3.6 0a1.8 1.8 0 1 0 -3.6 0ZM341.7 274.0a1.8 1.8 0 1 0 3.6 0a1.8 1.8 0 1 0 -3.6 0ZM349.9 282.5a1.8 1.8 0 1 0 3.6 0a1.8 1.8 0 1 0 -3.6 0ZM358.9 297.5a1.8 1.8 0 1 0 3.6 0a1.8 1.8 0 1 0 -3.6 0ZM368.2 304.2a1.8 1.8 0 1 0 3.6 0a1.8 1.8 0 1 0 -3.6 0ZM377.9 324.5a1.8 1.8 0 1 0 3.6 0a1.8 1.8 0 1 0 -3.6 0ZM387.9 335.0a1.8 1.8 0 1 0 3.6 0a1.8 1.8 0 1 0 -3.6 0ZM397.9 348.8a1.8 1.8 0 1 0 3.6 0a1.8 1.8 0 1 0 -3.6 0ZM407.2 371.2a1.8 1.8 0 1 0 3.6 0a1.8 1.8 0 1 0 -3.6 0ZM417.9 345.0a1.8 1.8 0 1 0 3.6 0a1.8 1.8 0 1 0 -3.6 0ZM428.7 324.5a1.8 1.8 0 1 0 3.6 0a1.8 1.8 0 1 0 -3.6 0ZM440.4 301.2a1.8 1.8 0 1 0 3.6 0a1.8 1.8 0 1 0 -3.6 0ZM452.4 263.2a1.8 1.8 0 1 0 3.6 0a1.8 1.8 0 1 0 -3.6 0ZM463.3 259.4a1.8 1.8 0 1 0 3.6 0a1.8 1.8 0 1 0 -3.6 0ZM475.9 206.2a1.8 1.8 0 1 0 3.6 0a1.8 1.8 0 1 0 -3.6 0ZM487.7 156.5a1.8 1.8 0 1 0 3.6 0a1.8 1.8 0 1 0 -3.6 0ZM501.0 142.6a1.8 1.8 0 1 0 3.6 0a1.8 1.8 0 1 0 -3.6 0ZM514.8 97.3a1.8 1.8 0 1 0 3.6 0a1.8 1.8 0 1 0 -3.6 0ZM528.3 57.0a1.8 1.8 0 1 0 3.6 0a1.8 1.8 0 1 0 -3.6 0ZM543.0 9.0a1.8 1.8 0 1 0 3.6 0a1.8 1.8 0 1 0 -3.6 0Z" fill="#ffdc50" stroke="#ffcc00" stroke-width="1.4"/><path d="M54.7 311.0L55.0 344.2L55.2 328.4L55.3 341.4L55.9 337.2L56.0 345.1L56.2 334.9L56.7 360.2L56.6 319.0L57.1 345.9L57.3 305.0L57.8 369.8L58.0 309.9L58.1 345.2L58.2 309.1L58.7 347.4L59.5 303.5L59.5 372.0L56.9 347.1L57.5 362.6L58.1 335.6L58.3 362.0L58.9 347.8L59.6 362.1L60.3 344.6L60.6 364.8L61.4 351.1L61.7 355.8L62.6 344.0L63.0 368.2L63.5 343.6L64.1 371.5L64.9 343.8L65.2 356.8L63.3 337.3L64.2 352.6L64.8 336.8L65.8 346.9L66.2 337.1L66.9 350.1L66.2 321.7L66.6 331.9L67.0 318.0L67.9 334.3L68.4 310.3L68.7 333.0L69.5 314.2L69.9 327.9L70.7 310.0L71.6 315.7L72.5 306.0L73.5 316.3L74.3 307.6L75.2 318.4L75.9 309.3L76.9 315.6L77.9 309.1L78.8 317.8L79.6 310.6L80.5 317.2L81.1 311.5L81.9 312.1L71.1 306.1L71.5 315.6L72.7 305.6L74.6 310.7L75.7 306.0L76.5 315.0L77.2 307.2L79.2 318.6L80.8 305.8L81.4 316.1L72.8 325.2L73.4 335.4L74.1 319.9L75.0 331.8L75.8 320.8L76.3 334.3L77.4 327.7L78.1 335.2L78.4 327.4L79.4 329.7L82.9 339.8L83.7 355.8L84.5 333.2L85.2 349.8L85.7 339.6L86.7 356.1L87.1 335.4L88.0 361.8L89.9 354.6L91.3 359.5L92.8 348.9L94.4 364.7L96.1 354.7L97.3 358.8L99.0 354.3L100.6 366.1L102.2 355.8L98.5 367.3L102.4 360.1L105.8 353.4L108.0 361.4L110.4 359.1L115.1 348.2L116.5 349.1L118.4 345.8L120.1 352.2L121.7 346.3L123.6 351.6L125.1 349.4L126.9 356.8L128.4 349.2L129.9 353.6M116.5 337.0L117.5 338.8L118.5 343.0L122.0 342.0L126.0 348.0L130.0 338.0L133.0 341.0L136.0 344.0L140.0 341.0L142.3 342.7L143.9 338.0L147.0 347.4L151.7 324.8L152.5 341.9L155.6 341.9L158.7 343.5L161.8 338.0L164.9 336.5L168.0 345.8L171.9 338.0L175.8 345.8L176.6 348.9L179.7 340.4L182.5 342.5L187.5 346.2L191.2 342.5L195.0 345.0L200.0 347.5L205.0 350.0L210.0 348.8L217.5 351.2L223.8 351.2L228.8 357.0L233.8 352.5L240.0 351.2L246.2 352.5L252.5 353.8L257.5 356.2L262.5 358.8L267.5 365.0L270.0 370.0L276.2 366.2L282.5 363.8L287.5 368.8L295.0 362.5L302.5 370.0L310.0 360.0L316.2 366.2L323.5 368.8L333.5 370.0L343.5 370.0L352.2 367.5L361.0 360.0L369.8 363.8L379.8 353.8L389.8 356.2L399.8 357.5L409.8 350.0L420.5 343.2L431.0 341.2L442.0 340.2L454.2 327.4L465.8 348.1L478.1 321.9L490.3 305.1L503.3 320.9L516.7 311.2L530.3 306.5L542.4 300.0L545.0 297.0" stroke="#005a00" stroke-width="1.6" fill="none" stroke-linecap="round" stroke-linejoin="round" stroke-dasharray="0.3 2.8"/><path d="M53.0 311.0a1.7 1.7 0 1 0 3.4 0a1.7 1.7 0 1 0 -3.4 0ZM53.3 344.2a1.7 1.7 0 1 0 3.4 0a1.7 1.7 0 1 0 -3.4 0ZM53.5 328.4a1.7 1.7 0 1 0 3.4 0a1.7 1.7 0 1 0 -3.4 0ZM53.6 341.4a1.7 1.7 0 1 0 3.4 0a1.7 1.7 0 1 0 -3.4 0ZM54.2 337.2a1.7 1.7 0 1 0 3.4 0a1.7 1.7 0 1 0 -3.4 0ZM54.3 345.1a1.7 1.7 0 1 0 3.4 0a1.7 1.7 0 1 0 -3.4 0ZM54.5 334.9a1.7 1.7 0 1 0 3.4 0a1.7 1.7 0 1 0 -3.4 0ZM55.0 360.2a1.7 1.7 0 1 0 3.4 0a1.7 1.7 0 1 0 -3.4 0ZM54.9 319.0a1.7 1.7 0 1 0 3.4 0a1.7 1.7 0 1 0 -3.4 0ZM55.4 345.9a1.7 1.7 0 1 0 3.4 0a1.7 1.7 0 1 0 -3.4 0ZM55.6 305.0a1.7 1.7 0 1 0 3.4 0a1.7 1.7 0 1 0 -3.4 0ZM56.1 369.8a1.7 1.7 0 1 0 3.4 0a1.7 1.7 0 1 0 -3.4 0ZM56.3 309.9a1.7 1.7 0 1 0 3.4 0a1.7 1.7 0 1 0 -3.4 0ZM56.4 345.2a1.7 1.7 0 1 0 3.4 0a1.7 1.7 0 1 0 -3.4 0ZM56.5 309.1a1.7 1.7 0 1 0 3.4 0a1.7 1.7 0 1 0 -3.4 0ZM57.0 347.4a1.7 1.7 0 1 0 3.4 0a1.7 1.7 0 1 0 -3.4 0ZM57.8 303.5a1.7 1.7 0 1 0 3.4 0a1.7 1.7 0 1 0 -3.4 0ZM57.8 372.0a1.7 1.7 0 1 0 3.4 0a1.7 1.7 0 1 0 -3.4 0ZM55.2 347.1a1.7 1.7 0 1 0 3.4 0a1.7 1.7 0 1 0 -3.4 0ZM55.8 362.6a1.7 1.7 0 1 0 3.4 0a1.7 1.7 0 1 0 -3.4 0ZM56.4 335.6a1.7 1.7 0 1 0 3.4 0a1.7 1.7 0 1 0 -3.4 0ZM56.6 362.0a1.7 1.7 0 1 0 3.4 0a1.7 1.7 0 1 0 -3.4 0ZM57.2 347.8a1.7 1.7 0 1 0 3.4 0a1.7 1.7 0 1 0 -3.4 0ZM57.9 362.1a1.7 1.7 0 1 0 3.4 0a1.7 1.7 0 1 0 -3.4 0ZM58.6 344.6a1.7 1.7 0 1 0 3.4 0a1.7 1.7 0 1 0 -3.4 0ZM58.9 364.8a1.7 1.7 0 1 0 3.4 0a1.7 1.7 0 1 0 -3.4 0ZM59.7 351.1a1.7 1.7 0 1 0 3.4 0a1.7 1.7 0 1 0 -3.4 0ZM60.0 355.8a1.7 1.7 0 1 0 3.4 0a1.7 1.7 0 1 0 -3.4 0ZM60.9 344.0a1.7 1.7 0 1 0 3.4 0a1.7 1.7 0 1 0 -3.4 0ZM61.3 368.2a1.7 1.7 0 1 0 3.4 0a1.7 1.7 0 1 0 -3.4 0ZM61.8 343.6a1.7 1.7 0 1 0 3.4 0a1.7 1.7 0 1 0 -3.4 0ZM62.4 371.5a1.7 1.7 0 1 0 3.4 0a1.7 1.7 0 1 0 -3.4 0ZM63.2 343.8a1.7 1.7 0 1 0 3.4 0a1.7 1.7 0 1 0 -3.4 0ZM63.5 356.8a1.7 1.7 0 1 0 3.4 0a1.7 1.7 0 1 0 -3.4 0ZM61.6 337.3a1.7 1.7 0 1 0 3.4 0a1.7 1.7 0 1 0 -3.4 0ZM62.5 352.6a1.7 1.7 0 1 0 3.4 0a1.7 1.7 0 1 0 -3.4 0ZM63.1 336.8a1.7 1.7 0 1 0 3.4 0a1.7 1.7 0 1 0 -3.4 0ZM64.1 346.9a1.7 1.7 0 1 0 3.4 0a1.7 1.7 0 1 0 -3.4 0ZM64.5 337.1a1.7 1.7 0 1 0 3.4 0a1.7 1.7 0 1 0 -3.4 0ZM65.2 350.1a1.7 1.7 0 1 0 3.4 0a1.7 1.7 0 1 0 -3.4 0ZM64.5 321.7a1.7 1.7 0 1 0 3.4 0a1.7 1.7 0 1 0 -3.4 0ZM64.9 331.9a1.7 1.7 0 1 0 3.4 0a1.7 1.7 0 1 0 -3.4 0ZM65.3 318.0a1.7 1.7 0 1 0 3.4 0a1.7 1.7 0 1 0 -3.4 0ZM66.2 334.3a1.7 1.7 0 1 0 3.4 0a1.7 1.7 0 1 0 -3.4 0ZM66.7 310.3a1.7 1.7 0 1 0 3.4 0a1.7 1.7 0 1 0 -3.4 0ZM67.0 333.0a1.7 1.7 0 1 0 3.4 0a1.7 1.7 0 1 0 -3.4 0ZM67.8 314.2a1.7 1.7 0 1 0 3.4 0a1.7 1.7 0 1 0 -3.4 0ZM68.2 327.9a1.7 1.7 0 1 0 3.4 0a1.7 1.7 0 1 0 -3.4 0ZM69.0 310.0a1.7 1.7 0 1 0 3.4 0a1.7 1.7 0 1 0 -3.4 0ZM69.9 315.7a1.7 1.7 0 1 0 3.4 0a1.7 1.7 0 1 0 -3.4 0ZM70.8 306.0a1.7 1.7 0 1 0 3.4 0a1.7 1.7 0 1 0 -3.4 0ZM71.8 316.3a1.7 1.7 0 1 0 3.4 0a1.7 1.7 0 1 0 -3.4 0ZM72.6 307.6a1.7 1.7 0 1 0 3.4 0a1.7 1.7 0 1 0 -3.4 0ZM73.5 318.4a1.7 1.7 0 1 0 3.4 0a1.7 1.7 0 1 0 -3.4 0ZM74.2 309.3a1.7 1.7 0 1 0 3.4 0a1.7 1.7 0 1 0 -3.4 0ZM75.2 315.6a1.7 1.7 0 1 0 3.4 0a1.7 1.7 0 1 0 -3.4 0ZM76.2 309.1a1.7 1.7 0 1 0 3.4 0a1.7 1.7 0 1 0 -3.4 0ZM77.1 317.8a1.7 1.7 0 1 0 3.4 0a1.7 1.7 0 1 0 -3.4 0ZM77.9 310.6a1.7 1.7 0 1 0 3.4 0a1.7 1.7 0 1 0 -3.4 0ZM78.8 317.2a1.7 1.7 0 1 0 3.4 0a1.7 1.7 0 1 0 -3.4 0ZM79.4 311.5a1.7 1.7 0 1 0 3.4 0a1.7 1.7 0 1 0 -3.4 0ZM80.2 312.1a1.7 1.7 0 1 0 3.4 0a1.7 1.7 0 1 0 -3.4 0ZM69.4 306.1a1.7 1.7 0 1 0 3.4 0a1.7 1.7 0 1 0 -3.4 0ZM69.8 315.6a1.7 1.7 0 1 0 3.4 0a1.7 1.7 0 1 0 -3.4 0ZM71.0 305.6a1.7 1.7 0 1 0 3.4 0a1.7 1.7 0 1 0 -3.4 0ZM72.9 310.7a1.7 1.7 0 1 0 3.4 0a1.7 1.7 0 1 0 -3.4 0ZM74.0 306.0a1.7 1.7 0 1 0 3.4 0a1.7 1.7 0 1 0 -3.4 0ZM74.8 315.0a1.7 1.7 0 1 0 3.4 0a1.7 1.7 0 1 0 -3.4 0ZM75.5 307.2a1.7 1.7 0 1 0 3.4 0a1.7 1.7 0 1 0 -3.4 0ZM77.5 318.6a1.7 1.7 0 1 0 3.4 0a1.7 1.7 0 1 0 -3.4 0ZM79.1 305.8a1.7 1.7 0 1 0 3.4 0a1.7 1.7 0 1 0 -3.4 0ZM79.7 316.1a1.7 1.7 0 1 0 3.4 0a1.7 1.7 0 1 0 -3.4 0ZM71.1 325.2a1.7 1.7 0 1 0 3.4 0a1.7 1.7 0 1 0 -3.4 0ZM71.7 335.4a1.7 1.7 0 1 0 3.4 0a1.7 1.7 0 1 0 -3.4 0ZM72.4 319.9a1.7 1.7 0 1 0 3.4 0a1.7 1.7 0 1 0 -3.4 0ZM73.3 331.8a1.7 1.7 0 1 0 3.4 0a1.7 1.7 0 1 0 -3.4 0ZM74.1 320.8a1.7 1.7 0 1 0 3.4 0a1.7 1.7 0 1 0 -3.4 0ZM74.6 334.3a1.7 1.7 0 1 0 3.4 0a1.7 1.7 0 1 0 -3.4 0ZM75.7 327.7a1.7 1.7 0 1 0 3.4 0a1.7 1.7 0 1 0 -3.4 0ZM76.4 335.2a1.7 1.7 0 1 0 3.4 0a1.7 1.7 0 1 0 -3.4 0ZM76.7 327.4a1.7 1.7 0 1 0 3.4 0a1.7 1.7 0 1 0 -3.4 0ZM77.7 329.7a1.7 1.7 0 1 0 3.4 0a1.7 1.7 0 1 0 -3.4 0ZM81.2 339.8a1.7 1.7 0 1 0 3.4 0a1.7 1.7 0 1 0 -3.4 0ZM82.0 355.8a1.7 1.7 0 1 0 3.4 0a1.7 1.7 0 1 0 -3.4 0ZM82.8 333.2a1.7 1.7 0 1 0 3.4 0a1.7 1.7 0 1 0 -3.4 0ZM83.5 349.8a1.7 1.7 0 1 0 3.4 0a1.7 1.7 0 1 0 -3.4 0ZM84.0 339.6a1.7 1.7 0 1 0 3.4 0a1.7 1.7 0 1 0 -3.4 0ZM85.0 356.1a1.7 1.7 0 1 0 3.4 0a1.7 1.7 0 1 0 -3.4 0ZM85.4 335.4a1.7 1.7 0 1 0 3.4 0a1.7 1.7 0 1 0 -3.4 0ZM86.3 361.8a1.7 1.7 0 1 0 3.4 0a1.7 1.7 0 1 0 -3.4 0ZM88.2 354.6a1.7 1.7 0 1 0 3.4 0a1.7 1.7 0 1 0 -3.4 0ZM89.6 359.5a1.7 1.7 0 1 0 3.4 0a1.7 1.7 0 1 0 -3.4 0ZM91.1 348.9a1.7 1.7 0 1 0 3.4 0a1.7 1.7 0 1 0 -3.4 0ZM92.7 364.7a1.7 1.7 0 1 0 3.4 0a1.7 1.7 0 1 0 -3.4 0ZM94.4 354.7a1.7 1.7 0 1 0 3.4 0a1.7 1.7 0 1 0 -3.4 0ZM95.6 358.8a1.7 1.7 0 1 0 3.4 0a1.7 1.7 0 1 0 -3.4 0ZM97.3 354.3a1.7 1.7 0 1 0 3.4 0a1.7 1.7 0 1 0 -3.4 0ZM98.9 366.1a1.7 1.7 0 1 0 3.4 0a1.7 1.7 0 1 0 -3.4 0ZM100.5 355.8a1.7 1.7 0 1 0 3.4 0a1.7 1.7 0 1 0 -3.4 0ZM96.8 367.3a1.7 1.7 0 1 0 3.4 0a1.7 1.7 0 1 0 -3.4 0ZM100.7 360.1a1.7 1.7 0 1 0 3.4 0a1.7 1.7 0 1 0 -3.4 0ZM104.1 353.4a1.7 1.7 0 1 0 3.4 0a1.7 1.7 0 1 0 -3.4 0ZM106.3 361.4a1.7 1.7 0 1 0 3.4 0a1.7 1.7 0 1 0 -3.4 0ZM108.7 359.1a1.7 1.7 0 1 0 3.4 0a1.7 1.7 0 1 0 -3.4 0ZM113.4 348.2a1.7 1.7 0 1 0 3.4 0a1.7 1.7 0 1 0 -3.4 0ZM114.8 349.1a1.7 1.7 0 1 0 3.4 0a1.7 1.7 0 1 0 -3.4 0ZM116.7 345.8a1.7 1.7 0 1 0 3.4 0a1.7 1.7 0 1 0 -3.4 0ZM118.4 352.2a1.7 1.7 0 1 0 3.4 0a1.7 1.7 0 1 0 -3.4 0ZM120.0 346.3a1.7 1.7 0 1 0 3.4 0a1.7 1.7 0 1 0 -3.4 0ZM121.9 351.6a1.7 1.7 0 1 0 3.4 0a1.7 1.7 0 1 0 -3.4 0ZM123.4 349.4a1.7 1.7 0 1 0 3.4 0a1.7 1.7 0 1 0 -3.4 0ZM125.2 356.8a1.7 1.7 0 1 0 3.4 0a1.7 1.7 0 1 0 -3.4 0ZM126.7 349.2a1.7 1.7 0 1 0 3.4 0a1.7 1.7 0 1 0 -3.4 0ZM128.2 353.6a1.7 1.7 0 1 0 3.4 0a1.7 1.7 0 1 0 -3.4 0ZM114.8 337.0a1.7 1.7 0 1 0 3.4 0a1.7 1.7 0 1 0 -3.4 0ZM115.8 338.8a1.7 1.7 0 1 0 3.4 0a1.7 1.7 0 1 0 -3.4 0ZM116.8 343.0a1.7 1.7 0 1 0 3.4 0a1.7 1.7 0 1 0 -3.4 0ZM120.3 342.0a1.7 1.7 0 1 0 3.4 0a1.7 1.7 0 1 0 -3.4 0ZM124.3 348.0a1.7 1.7 0 1 0 3.4 0a1.7 1.7 0 1 0 -3.4 0ZM128.3 338.0a1.7 1.7 0 1 0 3.4 0a1.7 1.7 0 1 0 -3.4 0ZM131.3 341.0a1.7 1.7 0 1 0 3.4 0a1.7 1.7 0 1 0 -3.4 0ZM134.3 344.0a1.7 1.7 0 1 0 3.4 0a1.7 1.7 0 1 0 -3.4 0ZM138.3 341.0a1.7 1.7 0 1 0 3.4 0a1.7 1.7 0 1 0 -3.4 0ZM140.6 342.7a1.7 1.7 0 1 0 3.4 0a1.7 1.7 0 1 0 -3.4 0ZM142.2 338.0a1.7 1.7 0 1 0 3.4 0a1.7 1.7 0 1 0 -3.4 0ZM145.3 347.4a1.7 1.7 0 1 0 3.4 0a1.7 1.7 0 1 0 -3.4 0ZM150.0 324.8a1.7 1.7 0 1 0 3.4 0a1.7 1.7 0 1 0 -3.4 0ZM150.8 341.9a1.7 1.7 0 1 0 3.4 0a1.7 1.7 0 1 0 -3.4 0ZM153.9 341.9a1.7 1.7 0 1 0 3.4 0a1.7 1.7 0 1 0 -3.4 0ZM157.0 343.5a1.7 1.7 0 1 0 3.4 0a1.7 1.7 0 1 0 -3.4 0ZM160.1 338.0a1.7 1.7 0 1 0 3.4 0a1.7 1.7 0 1 0 -3.4 0ZM163.2 336.5a1.7 1.7 0 1 0 3.4 0a1.7 1.7 0 1 0 -3.4 0ZM166.3 345.8a1.7 1.7 0 1 0 3.4 0a1.7 1.7 0 1 0 -3.4 0ZM170.2 338.0a1.7 1.7 0 1 0 3.4 0a1.7 1.7 0 1 0 -3.4 0ZM174.1 345.8a1.7 1.7 0 1 0 3.4 0a1.7 1.7 0 1 0 -3.4 0ZM174.9 348.9a1.7 1.7 0 1 0 3.4 0a1.7 1.7 0 1 0 -3.4 0ZM178.0 340.4a1.7 1.7 0 1 0 3.4 0a1.7 1.7 0 1 0 -3.4 0ZM180.8 342.5a1.7 1.7 0 1 0 3.4 0a1.7 1.7 0 1 0 -3.4 0ZM185.8 346.2a1.7 1.7 0 1 0 3.4 0a1.7 1.7 0 1 0 -3.4 0ZM189.6 342.5a1.7 1.7 0 1 0 3.4 0a1.7 1.7 0 1 0 -3.4 0ZM193.3 345.0a1.7 1.7 0 1 0 3.4 0a1.7 1.7 0 1 0 -3.4 0ZM198.3 347.5a1.7 1.7 0 1 0 3.4 0a1.7 1.7 0 1 0 -3.4 0ZM203.3 350.0a1.7 1.7 0 1 0 3.4 0a1.7 1.7 0 1 0 -3.4 0ZM208.3 348.8a1.7 1.7 0 1 0 3.4 0a1.7 1.7 0 1 0 -3.4 0ZM215.8 351.2a1.7 1.7 0 1 0 3.4 0a1.7 1.7 0 1 0 -3.4 0ZM222.1 351.2a1.7 1.7 0 1 0 3.4 0a1.7 1.7 0 1 0 -3.4 0ZM227.1 357.0a1.7 1.7 0 1 0 3.4 0a1.7 1.7 0 1 0 -3.4 0ZM232.1 352.5a1.7 1.7 0 1 0 3.4 0a1.7 1.7 0 1 0 -3.4 0ZM238.3 351.2a1.7 1.7 0 1 0 3.4 0a1.7 1.7 0 1 0 -3.4 0ZM244.6 352.5a1.7 1.7 0 1 0 3.4 0a1.7 1.7 0 1 0 -3.4 0ZM250.8 353.8a1.7 1.7 0 1 0 3.4 0a1.7 1.7 0 1 0 -3.4 0ZM255.8 356.2a1.7 1.7 0 1 0 3.4 0a1.7 1.7 0 1 0 -3.4 0ZM260.8 358.8a1.7 1.7 0 1 0 3.4 0a1.7 1.7 0 1 0 -3.4 0ZM265.8 365.0a1.7 1.7 0 1 0 3.4 0a1.7 1.7 0 1 0 -3.4 0ZM268.3 370.0a1.7 1.7 0 1 0 3.4 0a1.7 1.7 0 1 0 -3.4 0ZM274.6 366.2a1.7 1.7 0 1 0 3.4 0a1.7 1.7 0 1 0 -3.4 0ZM280.8 363.8a1.7 1.7 0 1 0 3.4 0a1.7 1.7 0 1 0 -3.4 0ZM285.8 368.8a1.7 1.7 0 1 0 3.4 0a1.7 1.7 0 1 0 -3.4 0ZM293.3 362.5a1.7 1.7 0 1 0 3.4 0a1.7 1.7 0 1 0 -3.4 0ZM300.8 370.0a1.7 1.7 0 1 0 3.4 0a1.7 1.7 0 1 0 -3.4 0ZM308.3 360.0a1.7 1.7 0 1 0 3.4 0a1.7 1.7 0 1 0 -3.4 0ZM314.6 366.2a1.7 1.7 0 1 0 3.4 0a1.7 1.7 0 1 0 -3.4 0ZM321.8 368.8a1.7 1.7 0 1 0 3.4 0a1.7 1.7 0 1 0 -3.4 0ZM331.8 370.0a1.7 1.7 0 1 0 3.4 0a1.7 1.7 0 1 0 -3.4 0ZM341.8 370.0a1.7 1.7 0 1 0 3.4 0a1.7 1.7 0 1 0 -3.4 0ZM350.6 367.5a1.7 1.7 0 1 0 3.4 0a1.7 1.7 0 1 0 -3.4 0ZM359.3 360.0a1.7 1.7 0 1 0 3.4 0a1.7 1.7 0 1 0 -3.4 0ZM368.1 363.8a1.7 1.7 0 1 0 3.4 0a1.7 1.7 0 1 0 -3.4 0ZM378.1 353.8a1.7 1.7 0 1 0 3.4 0a1.7 1.7 0 1 0 -3.4 0ZM388.1 356.2a1.7 1.7 0 1 0 3.4 0a1.7 1.7 0 1 0 -3.4 0ZM398.1 357.5a1.7 1.7 0 1 0 3.4 0a1.7 1.7 0 1 0 -3.4 0ZM408.1 350.0a1.7 1.7 0 1 0 3.4 0a1.7 1.7 0 1 0 -3.4 0ZM418.8 343.2a1.7 1.7 0 1 0 3.4 0a1.7 1.7 0 1 0 -3.4 0ZM429.3 341.2a1.7 1.7 0 1 0 3.4 0a1.7 1.7 0 1 0 -3.4 0ZM440.3 340.2a1.7 1.7 0 1 0 3.4 0a1.7 1.7 0 1 0 -3.4 0ZM452.5 327.4a1.7 1.7 0 1 0 3.4 0a1.7 1.7 0 1 0 -3.4 0ZM464.1 348.1a1.7 1.7 0 1 0 3.4 0a1.7 1.7 0 1 0 -3.4 0ZM476.4 321.9a1.7 1.7 0 1 0 3.4 0a1.7 1.7 0 1 0 -3.4 0ZM488.6 305.1a1.7 1.7 0 1 0 3.4 0a1.7 1.7 0 1 0 -3.4 0ZM501.6 320.9a1.7 1.7 0 1 0 3.4 0a1.7 1.7 0 1 0 -3.4 0ZM515.0 311.2a1.7 1.7 0 1 0 3.4 0a1.7 1.7 0 1 0 -3.4 0ZM528.6 306.5a1.7 1.7 0 1 0 3.4 0a1.7 1.7 0 1 0 -3.4 0ZM540.7 300.0a1.7 1.7 0 1 0 3.4 0a1.7 1.7 0 1 0 -3.4 0ZM543.3 297.0a1.7 1.7 0 1 0 3.4 0a1.7 1.7 0 1 0 -3.4 0Z" fill="#005a00"/><path d="M47.8 218.5L47.8 231.0L47.2 226.6L47.4 297.7L47.5 243.2L47.7 288.1L48.0 235.3L48.1 285.1L48.1 223.8L48.1 282.2L47.9 243.8L48.1 289.0L48.2 233.6L48.5 298.6L48.7 231.8L48.6 286.0L52.0 372.0L55.0 330.0L53.5 300.0L56.5 221.2L57.0 221.8L59.3 178.4L59.5 200.0L59.5 226.3L62.1 227.0L64.8 235.0L53.1 229.3L54.2 259.6L54.9 235.8L55.8 267.8L56.6 225.6L57.5 256.6L58.5 238.5L59.6 267.2L60.6 238.1L61.0 250.2L62.1 230.1L63.3 246.5L63.9 231.4L64.9 236.3L53.7 270.0L54.4 298.3L55.2 264.7L55.9 299.2L56.8 259.8L57.6 290.2L58.5 261.9L59.4 293.8L60.3 265.8L61.2 286.0L52.6 296.8L52.6 346.4L53.3 307.9L53.4 364.2L53.9 306.2L54.2 353.8L54.6 295.4L54.7 343.9L55.4 315.2L55.3 370.3L48.0 297.0L48.4 370.3L48.6 291.2L48.6 360.9L49.0 300.4L49.2 364.2L49.3 295.6L49.8 358.2L49.7 292.0L50.3 361.8L50.5 293.5L50.6 367.8L51.0 296.1L51.1 355.8L51.2 299.0L51.6 356.9L51.7 296.1L51.7 357.6L52.0 291.4L52.4 364.0L61.8 265.0L64.0 268.0L68.9 270.0L66.0 277.0L68.0 284.0L66.0 290.0L70.6 300.0L67.0 296.0L71.8 301.7L66.0 305.4L70.0 309.0L67.0 315.0L69.0 327.0L72.8 336.0L73.6 339.1L74.3 370.2L74.7 343.0L75.3 367.8L76.3 343.3L76.7 369.5L77.4 343.6L79.3 306.8L80.4 327.2L81.5 319.6L82.4 329.2L83.3 309.7L84.0 329.8L85.2 318.9L85.8 330.4L86.8 310.6L87.7 330.0L85.4 294.5L86.5 286.0L87.8 291.0L88.0 276.0L89.7 287.8L91.0 291.7L92.3 283.9L93.0 278.0L95.0 288.0L96.5 282.0M97.5 261.2L98.2 271.0L98.8 265.8L101.4 255.4L102.7 269.6L105.3 265.8L107.9 272.9L109.8 257.3L110.5 261.9L112.4 271.0L113.1 275.5L115.0 268.0L117.6 290.4L118.9 269.6L119.6 277.4L122.8 283.9L123.4 260.6L126.0 289.7L128.0 286.5L131.2 302.5L135.0 305.5L138.0 309.0L141.6 316.2L144.7 324.0L147.8 325.6L150.9 327.9L150.9 343.0L154.8 346.6L154.0 352.0L152.5 358.3L158.0 362.0L161.8 365.3L164.9 368.4L168.8 366.9L171.9 355.2L175.0 358.3L178.9 341.2L182.8 335.7L187.5 334.1L191.2 322.5L193.0 321.7L196.9 316.2L200.0 315.0L203.8 310.0L208.8 301.2L213.8 303.8L218.8 293.8L223.8 288.0L228.8 288.8L230.6 289.5L234.1 280.1L239.4 274.2L245.3 271.2L250.6 269.5L256.5 271.8L262.8 269.5L269.5 281.3L276.0 280.1L281.9 273.6L288.4 281.3L297.0 272.5L304.0 284.5L311.2 276.2L318.8 287.0L326.5 299.5L334.8 301.2L343.5 310.0L352.2 318.8L361.0 335.0L369.8 342.5L379.8 362.5L389.8 371.2L399.8 357.5L409.8 337.5L420.5 315.0L431.0 298.0L442.5 279.5L454.2 246.6L465.5 248.0L477.8 200.5L489.5 160.8L502.8 155.1L516.6 118.8L530.8 87.1L545.0 50.0" stroke="#8080ff" stroke-width="1.6" fill="none" stroke-linecap="butt" stroke-linejoin="round" stroke-dasharray="5.5 3.5"/><path d="M45.2 220.6L47.8 215.5L50.4 220.6ZM45.2 233.1L47.8 228.0L50.4 233.1ZM44.6 228.7L47.2 223.6L49.8 228.7ZM44.8 299.8L47.4 294.7L50.0 299.8ZM44.9 245.3L47.5 240.2L50.1 245.3ZM45.1 290.2L47.7 285.1L50.3 290.2ZM45.4 237.4L48.0 232.3L50.6 237.4ZM45.5 287.2L48.1 282.1L50.7 287.2ZM45.5 225.9L48.1 220.8L50.7 225.9ZM45.5 284.3L48.1 279.2L50.7 284.3ZM45.3 245.9L47.9 240.8L50.5 245.9ZM45.5 291.1L48.1 286.0L50.7 291.1ZM45.6 235.7L48.2 230.6L50.8 235.7ZM45.9 300.7L48.5 295.6L51.1 300.7ZM46.1 233.9L48.7 228.8L51.3 233.9ZM46.0 288.1L48.6 283.0L51.2 288.1ZM49.4 374.1L52.0 369.0L54.6 374.1ZM52.4 332.1L55.0 327.0L57.6 332.1ZM50.9 302.1L53.5 297.0L56.1 302.1ZM53.9 223.3L56.5 218.2L59.1 223.3ZM54.4 223.9L57.0 218.8L59.6 223.9ZM56.7 180.5L59.3 175.4L61.9 180.5ZM56.9 202.1L59.5 197.0L62.1 202.1ZM56.9 228.4L59.5 223.3L62.1 228.4ZM59.5 229.1L62.1 224.0L64.7 229.1ZM62.2 237.1L64.8 232.0L67.4 237.1ZM50.5 231.4L53.1 226.3L55.7 231.4ZM51.6 261.7L54.2 256.6L56.8 261.7ZM52.3 237.9L54.9 232.8L57.5 237.9ZM53.2 269.9L55.8 264.8L58.4 269.9ZM54.0 227.7L56.6 222.6L59.2 227.7ZM54.9 258.7L57.5 253.6L60.1 258.7ZM55.9 240.6L58.5 235.5L61.1 240.6ZM57.0 269.3L59.6 264.2L62.2 269.3ZM58.0 240.2L60.6 235.1L63.2 240.2ZM58.4 252.3L61.0 247.2L63.6 252.3ZM59.5 232.2L62.1 227.1L64.7 232.2ZM60.7 248.6L63.3 243.5L65.9 248.6ZM61.3 233.5L63.9 228.4L66.5 233.5ZM62.3 238.4L64.9 233.3L67.5 238.4ZM51.1 272.1L53.7 267.0L56.3 272.1ZM51.8 300.4L54.4 295.3L57.0 300.4ZM52.6 266.8L55.2 261.7L57.8 266.8ZM53.3 301.3L55.9 296.2L58.5 301.3ZM54.2 261.9L56.8 256.8L59.4 261.9ZM55.0 292.3L57.6 287.2L60.2 292.3ZM55.9 264.0L58.5 258.9L61.1 264.0ZM56.8 295.9L59.4 290.8L62.0 295.9ZM57.7 267.9L60.3 262.8L62.9 267.9ZM58.6 288.1L61.2 283.0L63.8 288.1ZM50.0 298.9L52.6 293.8L55.2 298.9ZM50.0 348.5L52.6 343.4L55.2 348.5ZM50.7 310.0L53.3 304.9L55.9 310.0ZM50.8 366.3L53.4 361.2L56.0 366.3ZM51.3 308.3L53.9 303.2L56.5 308.3ZM51.6 355.9L54.2 350.8L56.8 355.9ZM52.0 297.5L54.6 292.4L57.2 297.5ZM52.1 346.0L54.7 340.9L57.3 346.0ZM52.8 317.3L55.4 312.2L58.0 317.3ZM52.7 372.4L55.3 367.3L57.9 372.4ZM45.4 299.1L48.0 294.0L50.6 299.1ZM45.8 372.4L48.4 367.3L51.0 372.4ZM46.0 293.3L48.6 288.2L51.2 293.3ZM46.0 363.0L48.6 357.9L51.2 363.0ZM46.4 302.5L49.0 297.4L51.6 302.5ZM46.6 366.3L49.2 361.2L51.8 366.3ZM46.7 297.7L49.3 292.6L51.9 297.7ZM47.2 360.3L49.8 355.2L52.4 360.3ZM47.1 294.1L49.7 289.0L52.3 294.1ZM47.7 363.9L50.3 358.8L52.9 363.9ZM47.9 295.6L50.5 290.5L53.1 295.6ZM48.0 369.9L50.6 364.8L53.2 369.9ZM48.4 298.2L51.0 293.1L53.6 298.2ZM48.5 357.9L51.1 352.8L53.7 357.9ZM48.6 301.1L51.2 296.0L53.8 301.1ZM49.0 359.0L51.6 353.9L54.2 359.0ZM49.1 298.2L51.7 293.1L54.3 298.2ZM49.1 359.7L51.7 354.6L54.3 359.7ZM49.4 293.5L52.0 288.4L54.6 293.5ZM49.8 366.1L52.4 361.0L55.0 366.1ZM59.2 267.1L61.8 262.0L64.4 267.1ZM61.4 270.1L64.0 265.0L66.6 270.1ZM66.3 272.1L68.9 267.0L71.5 272.1ZM63.4 279.1L66.0 274.0L68.6 279.1ZM65.4 286.1L68.0 281.0L70.6 286.1ZM63.4 292.1L66.0 287.0L68.6 292.1ZM68.0 302.1L70.6 297.0L73.2 302.1ZM64.4 298.1L67.0 293.0L69.6 298.1ZM69.2 303.8L71.8 298.7L74.4 303.8ZM63.4 307.5L66.0 302.4L68.6 307.5ZM67.4 311.1L70.0 306.0L72.6 311.1ZM64.4 317.1L67.0 312.0L69.6 317.1ZM66.4 329.1L69.0 324.0L71.6 329.1ZM70.2 338.1L72.8 333.0L75.4 338.1ZM71.0 341.2L73.6 336.1L76.2 341.2ZM71.7 372.3L74.3 367.2L76.9 372.3ZM72.1 345.1L74.7 340.0L77.3 345.1ZM72.7 369.9L75.3 364.8L77.9 369.9ZM73.7 345.4L76.3 340.3L78.9 345.4ZM74.1 371.6L76.7 366.5L79.3 371.6ZM74.8 345.7L77.4 340.6L80.0 345.7ZM76.7 308.9L79.3 303.8L81.9 308.9ZM77.8 329.3L80.4 324.2L83.0 329.3ZM78.9 321.7L81.5 316.6L84.1 321.7ZM79.8 331.3L82.4 326.2L85.0 331.3ZM80.7 311.8L83.3 306.7L85.9 311.8ZM81.4 331.9L84.0 326.8L86.6 331.9ZM82.6 321.0L85.2 315.9L87.8 321.0ZM83.2 332.5L85.8 327.4L88.4 332.5ZM84.2 312.7L86.8 307.6L89.4 312.7ZM85.1 332.1L87.7 327.0L90.3 332.1ZM82.8 296.6L85.4 291.5L88.0 296.6ZM83.9 288.1L86.5 283.0L89.1 288.1ZM85.2 293.1L87.8 288.0L90.4 293.1ZM85.4 278.1L88.0 273.0L90.6 278.1ZM87.1 289.9L89.7 284.8L92.3 289.9ZM88.4 293.8L91.0 288.7L93.6 293.8ZM89.7 286.0L92.3 280.9L94.9 286.0ZM90.4 280.1L93.0 275.0L95.6 280.1ZM92.4 290.1L95.0 285.0L97.6 290.1ZM93.9 284.1L96.5 279.0L99.1 284.1ZM94.9 263.3L97.5 258.2L100.1 263.3ZM95.6 273.1L98.2 268.0L100.8 273.1ZM96.2 267.9L98.8 262.8L101.4 267.9ZM98.8 257.5L101.4 252.4L104.0 257.5ZM100.1 271.7L102.7 266.6L105.3 271.7ZM102.7 267.9L105.3 262.8L107.9 267.9ZM105.3 275.0L107.9 269.9L110.5 275.0ZM107.2 259.4L109.8 254.3L112.4 259.4ZM107.9 264.0L110.5 258.9L113.1 264.0ZM109.8 273.1L112.4 268.0L115.0 273.1ZM110.5 277.6L113.1 272.5L115.7 277.6ZM112.4 270.1L115.0 265.0L117.6 270.1ZM115.0 292.5L117.6 287.4L120.2 292.5ZM116.3 271.7L118.9 266.6L121.5 271.7ZM117.0 279.5L119.6 274.4L122.2 279.5ZM120.2 286.0L122.8 280.9L125.4 286.0ZM120.8 262.7L123.4 257.6L126.0 262.7ZM123.4 291.8L126.0 286.7L128.6 291.8ZM125.4 288.6L128.0 283.5L130.6 288.6ZM128.7 304.6L131.2 299.5L133.8 304.6ZM132.4 307.6L135.0 302.5L137.6 307.6ZM135.4 311.1L138.0 306.0L140.6 311.1ZM139.0 318.3L141.6 313.2L144.2 318.3ZM142.1 326.1L144.7 321.0L147.3 326.1ZM145.2 327.7L147.8 322.6L150.4 327.7ZM148.3 330.0L150.9 324.9L153.5 330.0ZM148.3 345.1L150.9 340.0L153.5 345.1ZM152.2 348.7L154.8 343.6L157.4 348.7ZM151.4 354.1L154.0 349.0L156.6 354.1ZM149.9 360.4L152.5 355.3L155.1 360.4ZM155.4 364.1L158.0 359.0L160.6 364.1ZM159.2 367.4L161.8 362.3L164.4 367.4ZM162.3 370.5L164.9 365.4L167.5 370.5ZM166.2 369.0L168.8 363.9L171.4 369.0ZM169.3 357.3L171.9 352.2L174.5 357.3ZM172.4 360.4L175.0 355.3L177.6 360.4ZM176.3 343.3L178.9 338.2L181.5 343.3ZM180.2 337.8L182.8 332.7L185.4 337.8ZM184.9 336.2L187.5 331.1L190.1 336.2ZM188.7 324.6L191.2 319.5L193.8 324.6ZM190.4 323.8L193.0 318.7L195.6 323.8ZM194.3 318.3L196.9 313.2L199.5 318.3ZM197.4 317.1L200.0 312.0L202.6 317.1ZM201.2 312.1L203.8 307.0L206.3 312.1ZM206.2 303.4L208.8 298.2L211.3 303.4ZM211.2 305.9L213.8 300.8L216.3 305.9ZM216.2 295.9L218.8 290.8L221.3 295.9ZM221.2 290.1L223.8 285.0L226.3 290.1ZM226.2 290.9L228.8 285.8L231.3 290.9ZM228.0 291.6L230.6 286.5L233.2 291.6ZM231.5 282.2L234.1 277.1L236.7 282.2ZM236.8 276.3L239.4 271.2L242.0 276.3ZM242.7 273.3L245.3 268.2L247.9 273.3ZM248.0 271.6L250.6 266.5L253.2 271.6ZM253.9 273.9L256.5 268.8L259.1 273.9ZM260.2 271.6L262.8 266.5L265.4 271.6ZM266.9 283.4L269.5 278.3L272.1 283.4ZM273.4 282.2L276.0 277.1L278.6 282.2ZM279.3 275.7L281.9 270.6L284.5 275.7ZM285.8 283.4L288.4 278.3L291.0 283.4ZM294.4 274.6L297.0 269.5L299.6 274.6ZM301.4 286.6L304.0 281.5L306.6 286.6ZM308.6 278.4L311.2 273.2L313.9 278.4ZM316.1 289.1L318.8 284.0L321.4 289.1ZM323.9 301.6L326.5 296.5L329.1 301.6ZM332.1 303.4L334.8 298.2L337.4 303.4ZM340.9 312.1L343.5 307.0L346.1 312.1ZM349.6 320.9L352.2 315.8L354.9 320.9ZM358.4 337.1L361.0 332.0L363.6 337.1ZM367.1 344.6L369.8 339.5L372.4 344.6ZM377.1 364.6L379.8 359.5L382.4 364.6ZM387.1 373.4L389.8 368.2L392.4 373.4ZM397.1 359.6L399.8 354.5L402.4 359.6ZM407.1 339.6L409.8 334.5L412.4 339.6ZM417.9 317.1L420.5 312.0L423.1 317.1ZM428.4 300.1L431.0 295.0L433.6 300.1ZM439.9 281.6L442.5 276.5L445.1 281.6ZM451.6 248.7L454.2 243.6L456.8 248.7ZM462.9 250.1L465.5 245.0L468.1 250.1ZM475.1 202.6L477.8 197.5L480.4 202.6ZM486.9 162.9L489.5 157.8L492.1 162.9ZM500.2 157.2L502.8 152.1L505.4 157.2ZM514.0 120.9L516.6 115.8L519.2 120.9ZM528.2 89.2L530.8 84.1L533.4 89.2ZM542.4 52.1L545.0 47.0L547.6 52.1Z" fill="#9090ff" stroke="#8080ff" stroke-width="1.1" stroke-linejoin="round"/><path d="M49.7 240.0a1.9 1.9 0 1 0 3.8 0a1.9 1.9 0 1 0 -3.8 0ZM49.7 262.0a1.9 1.9 0 1 0 3.8 0a1.9 1.9 0 1 0 -3.8 0ZM49.7 284.0a1.9 1.9 0 1 0 3.8 0a1.9 1.9 0 1 0 -3.8 0ZM45.6 232.0a1.9 1.9 0 1 0 3.8 0a1.9 1.9 0 1 0 -3.8 0ZM45.6 252.0a1.9 1.9 0 1 0 3.8 0a1.9 1.9 0 1 0 -3.8 0ZM45.6 276.0a1.9 1.9 0 1 0 3.8 0a1.9 1.9 0 1 0 -3.8 0ZM53.6 300.0a1.9 1.9 0 1 0 3.8 0a1.9 1.9 0 1 0 -3.8 0ZM53.6 306.0a1.9 1.9 0 1 0 3.8 0a1.9 1.9 0 1 0 -3.8 0ZM53.6 356.0a1.9 1.9 0 1 0 3.8 0a1.9 1.9 0 1 0 -3.8 0ZM53.6 366.0a1.9 1.9 0 1 0 3.8 0a1.9 1.9 0 1 0 -3.8 0Z" fill="#ffcc00"/><path d="M55.5 296V310M55.5 350V372" stroke="#ffcc00" stroke-width="1.6" fill="none"/></g><g font-family="Liberation Serif" font-size="18" fill="#000" stroke="#000" stroke-width="0.45"><text x="102.30" y="393" text-anchor="middle">1</text><text x="157.50" y="393" text-anchor="middle">2</text><text x="213.50" y="393" text-anchor="middle">3</text><text x="268.70" y="393" text-anchor="middle">4</text><text x="323.80" y="393" text-anchor="middle">5</text><text x="378.80" y="393" text-anchor="middle">6</text><text x="433.70" y="393" text-anchor="middle">7</text><text x="489.20" y="393" text-anchor="middle">8</text><text x="545.00" y="393" text-anchor="middle">9</text><text x="42.6" y="323.00" text-anchor="end">2</text><text x="42.6" y="267.80" text-anchor="end">4</text><text x="42.6" y="214.00" text-anchor="end">6</text><text x="42.6" y="158.80" text-anchor="end">8</text><text x="42.6" y="103.90" text-anchor="end">10</text><text x="42.6" y="50.10" text-anchor="end">12</text></g><g font-family="Liberation Serif" fill="#000" stroke="#000" stroke-width="0.3"><text x="505.5" y="421.2" font-size="22" stroke-width="0">×</text><text x="520.4" y="419.2" font-size="19.5">10</text><text x="539.4" y="410.4" font-size="13">4</text></g><text x="296.5" y="415" text-anchor="middle" font-family="Liberation Serif" font-weight="bold" font-size="19.8">Frequency</text><text transform="translate(19 188) rotate(-90)" text-anchor="middle" font-family="Liberation Serif" font-weight="bold" font-size="18.5">Error%</text><rect x="235.5" y="21.7" width="123" height="94.6" fill="#fff" stroke="#262626" stroke-width="1.3"/><path d="M235.8 31.80H257.5" stroke="#00ff00" stroke-width="1.6" fill="none" stroke-dasharray="6 2.5"/><path d="M243 34.10L247 28.80L251 34.10Z" fill="#00ff00"/><text x="259.3" y="37.40" font-family="Liberation Serif" font-weight="bold" font-size="15.7" fill="#000">combination 1</text><path d="M235.8 50.48H257.5" stroke="#ff00cc" stroke-width="1.6" fill="none"/><circle cx="247" cy="50.48" r="2.1" fill="#ff00cc"/><text x="259.3" y="56.08" font-family="Liberation Serif" font-weight="bold" font-size="15.7" fill="#000">combination 2</text><path d="M235.8 69.16H257.5" stroke="#ffcc00" stroke-width="1.6" fill="none"/><circle cx="247" cy="69.16" r="2.3" fill="#ffe890" stroke="#ffcc00" stroke-width="1.6"/><text x="259.3" y="74.76" font-family="Liberation Serif" font-weight="bold" font-size="15.7" fill="#000">combination 3</text><path d="M235.8 87.84H257.5" stroke="#005a00" stroke-width="1.6" fill="none" stroke-dasharray="6 2.5"/><circle cx="247" cy="87.84" r="1.8" fill="#005a00"/><text x="259.3" y="93.44" font-family="Liberation Serif" font-weight="bold" font-size="15.7" fill="#000">combination 4</text><path d="M235.8 106.52H257.5" stroke="#8080ff" stroke-width="1.6" fill="none"/><path d="M244.4 108.52L247 103.52L249.6 108.52Z" fill="#b0b0ff" stroke="#8080ff" stroke-width="1.3" stroke-linejoin="round"/><text x="259.3" y="112.12" font-family="Liberation Serif" font-weight="bold" font-size="15.7" fill="#000">combination 5</text></svg></body></html>
